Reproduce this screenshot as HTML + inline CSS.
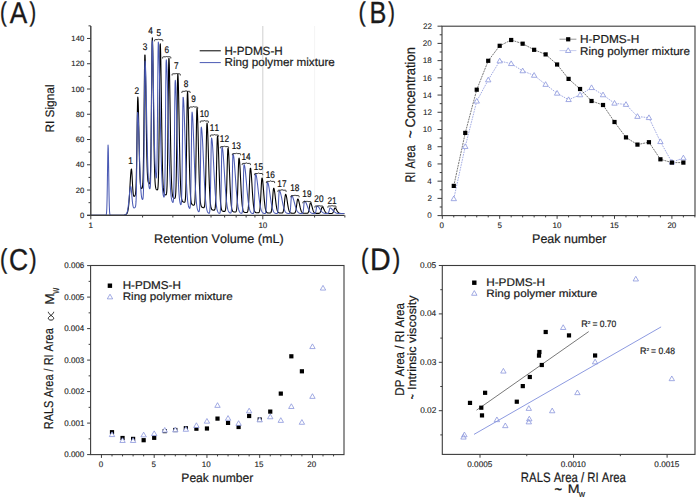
<!DOCTYPE html>
<html><head><meta charset="utf-8"><style>
html,body{margin:0;padding:0;background:#fff;}
svg{display:block;}
text{font-family:"Liberation Sans", sans-serif;font-kerning:none;font-variant-ligatures:none;text-rendering:geometricPrecision;}
</style></head><body>
<svg width="697" height="499" viewBox="0 0 697 499">
<rect width="697" height="499" fill="#fff"/>
<line x1="262.8" y1="26" x2="262.8" y2="215.3" stroke="#c4c4c4" stroke-width="0.8" />
<line x1="314.58" y1="26" x2="314.58" y2="215.3" stroke="#f3f3f3" stroke-width="0.8" />
<path d="M90.8 215.3 L91.05 215.3 L91.3 215.3 L91.55 215.3 L91.8 215.3 L92.05 215.3 L92.3 215.3 L92.55 215.3 L92.8 215.3 L93.05 215.3 L93.3 215.3 L93.55 215.3 L93.8 215.3 L94.05 215.3 L94.3 215.3 L94.55 215.3 L94.8 215.3 L95.05 215.3 L95.3 215.3 L95.55 215.3 L95.8 215.3 L96.05 215.3 L96.3 215.3 L96.55 215.3 L96.8 215.3 L97.05 215.3 L97.3 215.3 L97.55 215.3 L97.8 215.3 L98.05 215.3 L98.3 215.3 L98.55 215.3 L98.8 215.3 L99.05 215.3 L99.3 215.3 L99.55 215.3 L99.8 215.3 L100.05 215.3 L100.3 215.3 L100.55 215.3 L100.8 215.3 L101.05 215.3 L101.3 215.3 L101.55 215.3 L101.8 215.3 L102.05 215.3 L102.3 215.3 L102.55 215.3 L102.8 215.3 L103.05 215.3 L103.3 215.3 L103.55 215.3 L103.8 215.3 L104.05 215.3 L104.3 215.3 L104.55 215.3 L104.8 215.3 L105.05 215.3 L105.3 215.3 L105.55 215.3 L105.8 215.3 L106.05 215.3 L106.3 215.3 L106.55 215.3 L106.8 215.3 L107.05 215.3 L107.3 215.3 L107.55 215.3 L107.8 215.3 L108.05 215.3 L108.3 215.3 L108.55 215.3 L108.8 215.3 L109.05 215.3 L109.3 215.3 L109.55 215.3 L109.8 215.3 L110.05 215.3 L110.3 215.3 L110.55 215.3 L110.8 215.3 L111.05 215.3 L111.3 215.3 L111.55 215.3 L111.8 215.3 L112.05 215.3 L112.3 215.3 L112.55 215.3 L112.8 215.3 L113.05 215.3 L113.3 215.3 L113.55 215.3 L113.8 215.3 L114.05 215.3 L114.3 215.3 L114.55 215.3 L114.8 215.3 L115.05 215.3 L115.3 215.3 L115.55 215.3 L115.8 215.3 L116.05 215.3 L116.3 215.3 L116.55 215.3 L116.8 215.3 L117.05 215.3 L117.3 215.3 L117.55 215.3 L117.8 215.3 L118.05 215.3 L118.3 215.3 L118.55 215.3 L118.8 215.3 L119.05 215.3 L119.3 215.3 L119.55 215.3 L119.8 215.3 L120.05 215.3 L120.3 215.3 L120.55 215.3 L120.8 215.3 L121.05 215.3 L121.3 215.3 L121.55 215.3 L121.8 215.3 L122.05 215.3 L122.3 215.3 L122.55 215.3 L122.8 215.3 L123.05 215.3 L123.3 215.3 L123.55 215.3 L123.8 215.3 L124.05 215.28 L124.3 215.17 L124.55 215.06 L124.8 214.96 L125.05 214.85 L125.3 214.73 L125.55 214.62 L125.8 214.49 L126.05 214.35 L126.3 214.18 L126.55 213.96 L126.8 213.69 L127.05 213.32 L127.3 212.81 L127.55 212.12 L127.8 211.19 L128.05 209.97 L128.3 208.46 L128.55 206.53 L128.8 204.13 L129.05 201.27 L129.3 197.99 L129.55 194.18 L129.8 189.46 L130.05 184.74 L130.3 180.25 L130.55 176.22 L130.8 172.89 L131.05 170.44 L131.3 169 L131.55 169.25 L131.8 171.62 L132.05 175.55 L132.3 180.27 L132.55 185 L132.8 189.14 L133.05 192.33 L133.3 194.49 L133.55 195.69 L133.8 196.12 L134.05 196.13 L134.3 196.3 L134.55 196.24 L134.8 196.02 L135.05 195.62 L135.3 194.9 L135.55 193.53 L135.8 190.88 L136.05 186.06 L136.3 178.01 L136.55 165.98 L136.8 150.09 L137.05 131.93 L137.3 114.56 L137.55 101.84 L137.8 97 L138.05 99.17 L138.3 105.87 L138.55 116.08 L138.8 128.38 L139.05 141.27 L139.3 153.43 L139.55 163.96 L139.8 172.38 L140.05 178.63 L140.3 182.95 L140.55 185.72 L140.8 187.33 L141.05 188.17 L141.3 188.5 L141.55 188.6 L141.8 188.5 L142.05 188.21 L142.3 187.6 L142.55 186.31 L142.8 183.66 L143.05 178.56 L143.3 169.59 L143.55 155.44 L143.8 135.71 L144.05 111.7 L144.3 86.89 L144.55 66.35 L144.8 55.11 L145.05 55.1 L145.3 62.13 L145.55 74.64 L145.8 90.85 L146.05 108.7 L146.3 126.21 L146.55 141.9 L146.8 154.86 L147.05 164.83 L147.3 171.96 L147.55 176.72 L147.8 179.69 L148.05 181.38 L148.3 182.25 L148.55 182.7 L148.8 183.19 L149.05 183.51 L149.3 183.68 L149.55 183.64 L149.8 183.13 L150.05 181.62 L150.3 178.15 L150.55 171.3 L150.8 159.46 L151.05 141.45 L151.3 117.45 L151.55 89.93 L151.8 63.66 L152.05 44.58 L152.3 37.7 L152.55 41.65 L152.8 52.55 L153.05 68.84 L153.3 88.38 L153.55 108.87 L153.8 128.3 L154.05 145.24 L154.3 158.98 L154.55 169.39 L154.8 176.81 L155.05 181.81 L155.3 185.02 L155.55 186.99 L155.8 188.18 L156.05 188.91 L156.3 189.37 L156.55 189.66 L156.8 189.85 L157.05 189.97 L157.3 189.98 L157.55 189.73 L157.8 188.84 L158.05 186.62 L158.3 181.93 L158.55 173.22 L158.8 158.94 L159.05 138.34 L159.3 112.45 L159.55 84.69 L159.8 60.53 L160.05 45.8 L160.3 43.86 L160.55 49.52 L160.8 60.63 L161.05 75.92 L161.3 93.71 L161.55 112.29 L161.8 130.13 L162.05 146.1 L162.3 159.52 L162.55 170.18 L162.8 178.2 L163.05 183.95 L163.3 187.89 L163.55 190.48 L163.8 192.13 L164.05 193.15 L164.3 193.79 L164.55 194.2 L164.8 194.48 L165.05 194.64 L165.3 194.76 L165.55 194.85 L165.8 194.9 L166.05 194.83 L166.3 194.46 L166.55 193.41 L166.8 190.94 L167.05 185.89 L167.3 176.79 L167.55 162.26 L167.8 141.86 L168.05 116.98 L168.3 91.27 L168.55 70.02 L168.8 58.54 L169.05 58.56 L169.3 64.62 L169.55 75.39 L169.8 89.68 L170.05 106.03 L170.3 122.94 L170.55 139.09 L170.8 153.53 L171.05 165.69 L171.3 175.38 L171.55 182.73 L171.8 188.03 L172.05 191.69 L172.3 194.11 L172.55 195.65 L172.8 196.61 L173.05 197.2 L173.3 197.57 L173.55 197.8 L173.8 197.97 L174.05 198.1 L174.3 198.21 L174.55 198.29 L174.8 198.28 L175.05 198.07 L175.3 197.4 L175.55 195.73 L175.8 192.24 L176.05 185.76 L176.3 175.06 L176.55 159.35 L176.8 139.04 L177.05 116.28 L177.3 94.9 L177.55 79.54 L177.8 74 L178.05 76.22 L178.3 82.45 L178.55 92.1 L178.8 104.28 L179.05 117.94 L179.3 132.05 L179.55 145.66 L179.8 158.06 L180.05 168.81 L180.3 177.68 L180.55 184.7 L180.8 190.03 L181.05 193.92 L181.3 196.66 L181.55 198.53 L181.8 199.77 L182.05 200.58 L182.3 201.1 L182.55 201.45 L182.8 201.69 L183.05 201.87 L183.3 201.99 L183.55 202.08 L183.8 202.17 L184.05 202.24 L184.3 202.29 L184.55 202.28 L184.8 202.08 L185.05 201.46 L185.3 199.92 L185.55 196.68 L185.8 190.62 L186.05 180.59 L186.3 165.9 L186.55 147.06 L186.8 126.31 L187.05 107.44 L187.3 94.82 L187.55 91.59 L187.8 94.41 L188.05 100.84 L188.3 110.26 L188.55 121.78 L188.8 134.4 L189.05 147.13 L189.3 159.16 L189.55 169.91 L189.8 179.01 L190.05 186.37 L190.3 192.05 L190.55 196.26 L190.8 199.25 L191.05 201.31 L191.3 202.68 L191.55 203.56 L191.8 204.12 L192.05 204.48 L192.3 204.72 L192.55 204.88 L192.8 204.99 L193.05 205.07 L193.3 205.14 L193.55 205.19 L193.8 205.2 L194.05 205.1 L194.3 204.77 L194.55 203.93 L194.8 202.09 L195.05 198.54 L195.3 192.38 L195.55 182.83 L195.8 169.58 L196.05 153.32 L196.3 136.03 L196.55 120.71 L196.8 110.63 L197.05 108.08 L197.3 110.3 L197.55 115.42 L197.8 122.98 L198.05 132.31 L198.3 142.68 L198.55 153.34 L198.8 163.62 L199.05 173.03 L199.3 181.23 L199.55 188.06 L199.8 193.52 L200.05 197.72 L200.3 200.82 L200.55 203.04 L200.8 204.58 L201.05 205.62 L201.3 206.3 L201.55 206.74 L201.8 207.02 L202.05 207.22 L202.3 207.35 L202.55 207.45 L202.8 207.53 L203.05 207.6 L203.3 207.66 L203.55 207.7 L203.8 207.67 L204.05 207.52 L204.3 207.06 L204.55 206.03 L204.8 203.97 L205.05 200.27 L205.3 194.25 L205.55 185.39 L205.8 173.65 L206.05 159.79 L206.3 145.49 L206.55 133.11 L206.8 125.07 L207.05 123.06 L207.3 124.84 L207.55 128.93 L207.8 135 L208.05 142.56 L208.3 151.06 L208.55 159.93 L208.8 168.65 L209.05 176.79 L209.3 184.07 L209.55 190.29 L209.8 195.42 L210.05 199.49 L210.3 202.62 L210.55 204.94 L210.8 206.61 L211.05 207.78 L211.3 208.58 L211.55 209.13 L211.8 209.49 L212.05 209.73 L212.3 209.89 L212.55 209.98 L212.8 210.05 L213.05 210.1 L213.3 210.14 L213.55 210.17 L213.8 210.19 L214.05 210.2 L214.3 210.15 L214.55 209.99 L214.8 209.57 L215.05 208.64 L215.3 206.82 L215.55 203.57 L215.8 198.29 L216.05 190.54 L216.3 180.28 L216.55 168.18 L216.8 155.68 L217.05 144.86 L217.3 137.83 L217.55 136.05 L217.8 137.58 L218.05 141.12 L218.3 146.38 L218.55 152.95 L218.8 160.33 L219.05 168.04 L219.3 175.62 L219.55 182.7 L219.8 189.01 L220.05 194.41 L220.3 198.86 L220.55 202.39 L220.8 205.09 L221.05 207.08 L221.3 208.52 L221.55 209.51 L221.8 210.19 L222.05 210.63 L222.3 210.92 L222.55 211.11 L222.8 211.23 L223.05 211.29 L223.3 211.34 L223.55 211.37 L223.8 211.39 L224.05 211.4 L224.3 211.4 L224.55 211.37 L224.8 211.27 L225.05 211.03 L225.3 210.5 L225.55 209.44 L225.8 207.51 L226.05 204.29 L226.3 199.35 L226.55 192.43 L226.8 183.64 L227.05 173.6 L227.3 163.51 L227.55 154.93 L227.8 149.43 L228.05 148.04 L228.3 149.21 L228.55 151.96 L228.8 156.08 L229.05 161.26 L229.3 167.14 L229.55 173.37 L229.8 179.59 L230.05 185.51 L230.3 190.9 L230.55 195.62 L230.8 199.6 L231.05 202.85 L231.3 205.41 L231.55 207.36 L231.8 208.81 L232.05 209.85 L232.3 210.58 L232.55 211.07 L232.8 211.4 L233.05 211.62 L233.3 211.75 L233.55 211.84 L233.8 211.9 L234.05 211.94 L234.3 211.97 L234.55 211.98 L234.8 212 L235.05 212 L235.3 211.99 L235.55 211.94 L235.8 211.82 L236.05 211.53 L236.3 210.96 L236.55 209.87 L236.8 207.98 L237.05 204.95 L237.3 200.49 L237.55 194.44 L237.8 186.97 L238.05 178.64 L238.3 170.41 L238.55 163.52 L238.8 159.13 L239.05 158.03 L239.3 158.96 L239.55 161.15 L239.8 164.44 L240.05 168.6 L240.3 173.36 L240.55 178.45 L240.8 183.59 L241.05 188.54 L241.3 193.12 L241.55 197.19 L241.8 200.7 L242.05 203.61 L242.3 205.96 L242.55 207.79 L242.8 209.19 L243.05 210.22 L243.3 210.96 L243.55 211.48 L243.8 211.83 L244.05 212.07 L244.3 212.22 L244.55 212.33 L244.8 212.39 L245.05 212.43 L245.3 212.46 L245.55 212.48 L245.8 212.49 L246.05 212.5 L246.3 212.5 L246.55 212.49 L246.8 212.47 L247.05 212.39 L247.3 212.22 L247.55 211.86 L247.8 211.17 L248.05 209.95 L248.3 207.94 L248.55 204.89 L248.8 200.62 L249.05 195.11 L249.3 188.64 L249.55 181.83 L249.8 175.53 L250.05 170.71 L250.3 168.23 L250.55 168.19 L250.8 169.34 L251.05 171.45 L251.3 174.38 L251.55 177.93 L251.8 181.89 L252.05 186.03 L252.3 190.16 L252.55 194.1 L252.8 197.71 L253.05 200.91 L253.3 203.64 L253.55 205.9 L253.8 207.73 L254.05 209.15 L254.3 210.23 L254.55 211.03 L254.8 211.6 L255.05 212.01 L255.3 212.28 L255.55 212.47 L255.8 212.59 L256.05 212.67 L256.3 212.72 L256.55 212.75 L256.8 212.77 L257.05 212.78 L257.3 212.79 L257.55 212.8 L257.8 212.8 L258.05 212.8 L258.3 212.78 L258.55 212.74 L258.8 212.63 L259.05 212.4 L259.3 211.96 L259.55 211.16 L259.8 209.83 L260.05 207.75 L260.3 204.76 L260.55 200.81 L260.8 196.02 L261.05 190.76 L261.3 185.64 L261.55 181.39 L261.8 178.69 L262.05 178.02 L262.3 178.59 L262.55 179.92 L262.8 181.94 L263.05 184.5 L263.3 187.45 L263.55 190.62 L263.8 193.85 L264.05 196.99 L264.3 199.92 L264.55 202.55 L264.8 204.85 L265.05 206.79 L265.3 208.37 L265.55 209.63 L265.8 210.6 L266.05 211.33 L266.3 211.86 L266.55 212.24 L266.8 212.51 L267.05 212.69 L267.3 212.81 L267.55 212.89 L267.8 212.94 L268.05 212.97 L268.3 212.98 L268.55 212.99 L268.8 213 L269.05 213 L269.3 213 L269.55 213 L269.8 212.99 L270.05 212.96 L270.3 212.91 L270.55 212.81 L270.8 212.59 L271.05 212.2 L271.3 211.51 L271.55 210.41 L271.8 208.75 L272.05 206.44 L272.3 203.48 L272.55 200 L272.8 196.31 L273.05 192.83 L273.3 190.07 L273.55 188.47 L273.8 188.24 L274.05 188.74 L274.3 189.76 L274.55 191.22 L274.8 193.05 L275.05 195.14 L275.3 197.36 L275.55 199.61 L275.8 201.79 L276.05 203.82 L276.3 205.65 L276.55 207.25 L276.8 208.6 L277.05 209.7 L277.3 210.59 L277.55 211.27 L277.8 211.79 L278.05 212.16 L278.3 212.44 L278.55 212.63 L278.8 212.75 L279.05 212.84 L279.3 212.9 L279.55 212.93 L279.8 212.95 L280.05 212.96 L280.3 212.98 L280.55 212.99 L280.8 212.99 L281.05 213 L281.3 213 L281.55 213 L281.8 212.99 L282.05 212.96 L282.3 212.9 L282.55 212.78 L282.8 212.54 L283.05 212.12 L283.3 211.43 L283.55 210.38 L283.8 208.88 L284.05 206.91 L284.3 204.5 L284.55 201.81 L284.8 199.12 L285.05 196.75 L285.3 195.06 L285.55 194.32 L285.8 194.43 L286.05 194.95 L286.3 195.83 L286.55 197.01 L286.8 198.43 L287.05 200.01 L287.3 201.67 L287.55 203.33 L287.8 204.93 L288.05 206.41 L288.3 207.74 L288.55 208.91 L288.8 209.89 L289.05 210.7 L289.3 211.35 L289.55 211.85 L289.8 212.24 L290.05 212.53 L290.3 212.74 L290.55 212.89 L290.8 212.99 L291.05 213.06 L291.3 213.11 L291.55 213.14 L291.8 213.16 L292.05 213.18 L292.3 213.19 L292.55 213.19 L292.8 213.2 L293.05 213.2 L293.3 213.2 L293.55 213.2 L293.8 213.19 L294.05 213.17 L294.3 213.14 L294.55 213.06 L294.8 212.91 L295.05 212.66 L295.3 212.24 L295.55 211.6 L295.8 210.66 L296.05 209.4 L296.3 207.8 L296.55 205.95 L296.8 203.96 L297.05 202.05 L297.3 200.44 L297.55 199.37 L297.8 199 L298.05 199.14 L298.3 199.56 L298.55 200.22 L298.8 201.09 L299.05 202.13 L299.3 203.27 L299.55 204.48 L299.8 205.69 L300.05 206.86 L300.3 207.96 L300.55 208.95 L300.8 209.83 L301.05 210.58 L301.3 211.21 L301.55 211.72 L301.8 212.13 L302.05 212.45 L302.3 212.69 L302.55 212.87 L302.8 213 L303.05 213.09 L303.3 213.16 L303.55 213.2 L303.8 213.23 L304.05 213.25 L304.3 213.27 L304.55 213.28 L304.8 213.28 L305.05 213.29 L305.3 213.29 L305.55 213.29 L305.8 213.3 L306.05 213.3 L306.3 213.3 L306.55 213.3 L306.8 213.29 L307.05 213.28 L307.3 213.25 L307.55 213.18 L307.8 213.04 L308.05 212.79 L308.3 212.39 L308.55 211.76 L308.8 210.86 L309.05 209.69 L309.3 208.27 L309.55 206.73 L309.8 205.23 L310.05 203.99 L310.3 203.2 L310.55 203.01 L310.8 203.17 L311.05 203.56 L311.3 204.15 L311.55 204.9 L311.8 205.76 L312.05 206.69 L312.3 207.64 L312.55 208.57 L312.8 209.44 L313.05 210.22 L313.3 210.9 L313.55 211.48 L313.8 211.96 L314.05 212.34 L314.3 212.64 L314.55 212.86 L314.8 213.03 L315.05 213.14 L315.3 213.23 L315.55 213.28 L315.8 213.32 L316.05 213.35 L316.3 213.37 L316.55 213.38 L316.8 213.38 L317.05 213.39 L317.3 213.39 L317.55 213.4 L317.8 213.4 L318.05 213.4 L318.3 213.4 L318.55 213.39 L318.8 213.38 L319.05 213.34 L319.3 213.28 L319.55 213.17 L319.8 212.98 L320.05 212.69 L320.3 212.27 L320.55 211.69 L320.8 210.97 L321.05 210.14 L321.3 209.24 L321.55 208.37 L321.8 207.65 L322.05 207.17 L322.3 207 L322.55 207.07 L322.8 207.25 L323.05 207.55 L323.3 207.95 L323.55 208.42 L323.8 208.94 L324.05 209.49 L324.3 210.04 L324.55 210.57 L324.8 211.07 L325.05 211.52 L325.3 211.92 L325.55 212.26 L325.8 212.54 L326.05 212.78 L326.3 212.96 L326.55 213.11 L326.8 213.22 L327.05 213.3 L327.3 213.36 L327.55 213.41 L327.8 213.44 L328.05 213.46 L328.3 213.47 L328.55 213.48 L328.8 213.49 L329.05 213.5 L329.3 213.5 L329.55 213.5 L329.8 213.5 L330.05 213.5 L330.3 213.5 L330.55 213.5 L330.8 213.5 L331.05 213.49 L331.3 213.49 L331.55 213.47 L331.8 213.43 L332.05 213.37 L332.3 213.26 L332.55 213.08 L332.8 212.81 L333.05 212.42 L333.3 211.91 L333.55 211.27 L333.8 210.54 L334.05 209.77 L334.3 209.04 L334.55 208.46 L334.8 208.09 L335.05 208 L335.3 208.08 L335.55 208.26 L335.8 208.53 L336.05 208.88 L336.3 209.29 L336.55 209.74 L336.8 210.21 L337.05 210.67 L337.3 211.12 L337.55 211.53 L337.8 211.91 L338.05 212.24 L338.3 212.52 L338.55 212.75 L338.8 212.94 L339.05 213.09 L339.3 213.21 L339.55 213.29 L339.8 213.36 L340.05 213.4 L340.3 213.44 L340.55 213.46 L340.8 213.47 L341.05 213.48 L341.3 213.49 L341.55 213.49 L341.8 213.5 L342.05 213.5 L342.3 213.5 L342.55 213.5 L342.8 213.5 L343.05 213.5 L343.3 213.5 L343.55 213.5 L343.8 213.5 L344.05 213.5 L344.3 213.5" fill="none" stroke="#000" stroke-width="1.1" stroke-linejoin="round"/>
<path d="M90.8 215.3 L91.05 215.3 L91.3 215.3 L91.55 215.3 L91.8 215.3 L92.05 215.3 L92.3 215.3 L92.55 215.3 L92.8 215.3 L93.05 215.3 L93.3 215.3 L93.55 215.3 L93.8 215.3 L94.05 215.3 L94.3 215.3 L94.55 215.3 L94.8 215.3 L95.05 215.3 L95.3 215.3 L95.55 215.3 L95.8 215.3 L96.05 215.3 L96.3 215.3 L96.55 215.3 L96.8 215.3 L97.05 215.3 L97.3 215.3 L97.55 215.3 L97.8 215.3 L98.05 215.3 L98.3 215.3 L98.55 215.3 L98.8 215.3 L99.05 215.3 L99.3 215.3 L99.55 215.3 L99.8 215.3 L100.05 215.3 L100.3 215.3 L100.55 215.3 L100.8 215.3 L101.05 215.3 L101.3 215.3 L101.55 215.3 L101.8 215.3 L102.05 215.3 L102.3 215.3 L102.55 215.3 L102.8 215.3 L103.05 215.3 L103.3 215.3 L103.55 215.3 L103.8 215.3 L104.05 215.3 L104.3 215.3 L104.55 215.3 L104.8 215.3 L105.05 215.3 L105.3 215.3 L105.55 215.29 L105.8 215.25 L106.05 215.09 L106.3 214.52 L106.55 212.79 L106.8 208.56 L107.05 200.05 L107.3 186.32 L107.55 168.98 L107.8 153.08 L108.05 145.04 L108.3 148.61 L108.55 162.08 L108.8 179.6 L109.05 195.17 L109.3 205.76 L109.55 211.5 L109.8 214.03 L110.05 214.94 L110.3 215.22 L110.55 215.28 L110.8 215.3 L111.05 215.3 L111.3 215.3 L111.55 215.3 L111.8 215.3 L112.05 215.3 L112.3 215.3 L112.55 215.3 L112.8 215.3 L113.05 215.3 L113.3 215.3 L113.55 215.3 L113.8 215.3 L114.05 215.3 L114.3 215.3 L114.55 215.3 L114.8 215.3 L115.05 215.3 L115.3 215.3 L115.55 215.3 L115.8 215.3 L116.05 215.3 L116.3 215.3 L116.55 215.3 L116.8 215.3 L117.05 215.3 L117.3 215.3 L117.55 215.3 L117.8 215.3 L118.05 215.3 L118.3 215.3 L118.55 215.3 L118.8 215.3 L119.05 215.3 L119.3 215.3 L119.55 215.3 L119.8 215.3 L120.05 215.3 L120.3 215.3 L120.55 215.3 L120.8 215.3 L121.05 215.3 L121.3 215.3 L121.55 215.3 L121.8 215.3 L122.05 215.3 L122.3 215.3 L122.55 215.3 L122.8 215.3 L123.05 215.3 L123.3 215.3 L123.55 215.3 L123.8 215.3 L124.05 215.28 L124.3 215.17 L124.55 215.06 L124.8 214.95 L125.05 214.83 L125.3 214.7 L125.55 214.55 L125.8 214.38 L126.05 214.17 L126.3 213.91 L126.55 213.55 L126.8 213.09 L127.05 212.46 L127.3 211.64 L127.55 210.58 L127.8 209.25 L128.05 207.63 L128.3 205.78 L128.55 203.64 L128.8 201.27 L129.05 198.48 L129.3 195.68 L129.55 192.99 L129.8 190.59 L130.05 188.62 L130.3 187.21 L130.55 186.47 L130.8 186.54 L131.05 187.66 L131.3 189.64 L131.55 192.24 L131.8 195.13 L132.05 198.03 L132.3 200.7 L132.55 202.96 L132.8 204.75 L133.05 206.06 L133.3 206.94 L133.55 207.5 L133.8 207.8 L134.05 207.9 L134.3 207.87 L134.55 207.76 L134.8 207.59 L135.05 207.37 L135.3 207.03 L135.55 206.35 L135.8 204.77 L136.05 201.15 L136.3 193.76 L136.55 180.9 L136.8 162.3 L137.05 140.67 L137.3 121.86 L137.55 112.52 L137.8 112.73 L138.05 115.3 L138.3 119.81 L138.55 125.94 L138.8 133.29 L139.05 141.4 L139.3 149.82 L139.55 158.13 L139.8 165.99 L140.05 173.12 L140.3 179.37 L140.55 184.65 L140.8 188.97 L141.05 192.38 L141.3 194.99 L141.55 196.82 L141.8 198.08 L142.05 198.9 L142.3 199.36 L142.55 199.5 L142.8 199.22 L143.05 198.07 L143.3 194.96 L143.55 187.87 L143.8 174.12 L144.05 151.76 L144.3 121.93 L144.55 90.64 L144.8 67.55 L145.05 61.01 L145.3 63.07 L145.55 68.34 L145.8 76.41 L146.05 86.7 L146.3 98.52 L146.55 111.13 L146.8 123.84 L147.05 136.04 L147.3 147.27 L147.55 157.19 L147.8 165.64 L148.05 172.58 L148.3 178.08 L148.55 182.04 L148.8 184.88 L149.05 186.81 L149.3 188.02 L149.55 188.65 L149.8 188.8 L150.05 188.33 L150.3 186.7 L150.55 182.61 L150.8 173.74 L151.05 157.25 L151.3 131.55 L151.55 98.78 L151.8 66.31 L152.05 44.63 L152.3 40.68 L152.55 44.55 L152.8 52.91 L153.05 64.87 L153.3 79.28 L153.55 94.87 L153.8 110.44 L154.05 125 L154.3 137.84 L154.55 148.57 L154.8 157.08 L155.05 163.49 L155.3 168.06 L155.55 172.3 L155.8 175.31 L156.05 177.27 L156.3 178 L156.55 176.67 L156.8 171.46 L157.05 159.7 L157.3 139.05 L157.55 109.89 L157.8 77.51 L158.05 51.6 L158.3 42 L158.55 44.11 L158.8 49.09 L159.05 56.68 L159.3 66.46 L159.55 77.91 L159.8 90.48 L160.05 103.57 L160.3 116.64 L160.55 129.23 L160.8 140.95 L161.05 151.56 L161.3 160.89 L161.55 168.91 L161.8 175.63 L162.05 181.17 L162.3 185.65 L162.55 189.22 L162.8 192.05 L163.05 194.19 L163.3 195.48 L163.55 196.4 L163.8 196.98 L164.05 197.06 L164.3 196.08 L164.55 192.76 L164.8 184.83 L165.05 169.54 L165.3 145.31 L165.55 114.26 L165.8 83.49 L166.05 63.18 L166.3 59.84 L166.55 61.99 L166.8 66.27 L167.05 72.47 L167.3 80.32 L167.55 89.49 L167.8 99.61 L168.05 110.29 L168.3 121.16 L168.55 131.87 L168.8 142.14 L169.05 151.72 L169.3 160.47 L169.55 168.27 L169.8 175.07 L170.05 180.9 L170.3 185.79 L170.55 189.83 L170.8 193.09 L171.05 195.69 L171.3 197.65 L171.55 199.16 L171.8 200.31 L172.05 201.17 L172.3 201.8 L172.55 202.24 L172.8 202.49 L173.05 202.36 L173.3 201.36 L173.55 198.3 L173.8 191.19 L174.05 177.58 L174.3 156.08 L174.55 128.53 L174.8 101.24 L175.05 83.21 L175.3 80.23 L175.55 82.59 L175.8 87.34 L176.05 94.21 L176.3 102.8 L176.55 112.65 L176.8 123.25 L177.05 134.11 L177.3 144.78 L177.55 154.89 L177.8 164.16 L178.05 172.4 L178.3 179.52 L178.55 185.5 L178.8 190.41 L179.05 194.33 L179.3 197.38 L179.55 199.72 L179.8 201.48 L180.05 202.78 L180.3 203.72 L180.55 204.36 L180.8 204.69 L181.05 204.5 L181.3 203.15 L181.55 199.34 L181.8 191.06 L182.05 176.32 L182.3 154.81 L182.55 129.72 L182.8 107.94 L183.05 97.3 L183.3 97.65 L183.55 100.03 L183.8 104.04 L184.05 109.52 L184.3 116.2 L184.55 123.8 L184.8 132.02 L185.05 140.54 L185.3 149.07 L185.55 157.36 L185.8 165.18 L186.05 172.4 L186.3 178.88 L186.55 184.59 L186.8 189.5 L187.05 193.65 L187.3 197.08 L187.55 199.87 L187.8 202.1 L188.05 203.86 L188.3 205.21 L188.55 206.25 L188.8 207.04 L189.05 207.63 L189.3 208.06 L189.55 208.34 L189.8 208.37 L190.05 207.8 L190.3 205.86 L190.55 201.08 L190.8 191.53 L191.05 175.82 L191.3 154.77 L191.55 132.67 L191.8 116.45 L192.05 112.05 L192.3 113.18 L192.55 115.76 L192.8 119.66 L193.05 124.72 L193.3 130.73 L193.55 137.45 L193.8 144.64 L194.05 152.03 L194.3 159.41 L194.55 166.56 L194.8 173.31 L195.05 179.55 L195.3 185.18 L195.55 190.16 L195.8 194.47 L196.05 198.14 L196.3 201.21 L196.55 203.73 L196.8 205.76 L197.05 207.38 L197.3 208.66 L197.55 209.65 L197.8 210.36 L198.05 210.89 L198.3 211.28 L198.55 211.56 L198.8 211.7 L199.05 211.59 L199.3 210.88 L199.55 208.76 L199.8 203.84 L200.05 194.43 L200.3 179.57 L200.55 160.54 L200.8 141.68 L201.05 129.22 L201.3 127.1 L201.55 128.07 L201.8 130.05 L202.05 132.95 L202.3 136.69 L202.55 141.13 L202.8 146.14 L203.05 151.55 L203.3 157.21 L203.55 162.96 L203.8 168.68 L204.05 174.22 L204.3 179.49 L204.55 184.41 L204.8 188.91 L205.05 192.97 L205.3 196.56 L205.55 199.7 L205.8 202.39 L206.05 204.67 L206.3 206.58 L206.55 208.14 L206.8 209.42 L207.05 210.44 L207.3 211.25 L207.55 211.89 L207.8 212.37 L208.05 212.71 L208.3 212.97 L208.55 213.15 L208.8 213.28 L209.05 213.33 L209.3 213.21 L209.55 212.66 L209.8 211.06 L210.05 207.28 L210.3 199.82 L210.55 187.6 L210.8 171.26 L211.05 154.11 L211.3 141.49 L211.55 138.02 L211.8 138.64 L212.05 140.11 L212.3 142.4 L212.55 145.42 L212.8 149.07 L213.05 153.24 L213.3 157.8 L213.55 162.61 L213.8 167.55 L214.05 172.5 L214.3 177.34 L214.55 181.98 L214.8 186.35 L215.05 190.39 L215.3 194.06 L215.55 197.34 L215.8 200.23 L216.05 202.73 L216.3 204.87 L216.55 206.67 L216.8 208.16 L217.05 209.38 L217.3 210.37 L217.55 211.15 L217.8 211.77 L218.05 212.24 L218.3 212.6 L218.55 212.87 L218.8 213.06 L219.05 213.19 L219.3 213.28 L219.55 213.31 L219.8 213.19 L220.05 212.69 L220.3 211.27 L220.55 207.93 L220.8 201.37 L221.05 190.62 L221.3 176.25 L221.55 161.17 L221.8 150.08 L222.05 147.01 L222.3 147.49 L222.55 148.67 L222.8 150.49 L223.05 152.92 L223.3 155.86 L223.55 159.24 L223.8 162.96 L224.05 166.93 L224.3 171.03 L224.55 175.17 L224.8 179.27 L225.05 183.25 L225.3 187.05 L225.55 190.6 L225.8 193.87 L226.05 196.85 L226.3 199.51 L226.55 201.85 L226.8 203.89 L227.05 205.64 L227.3 207.12 L227.55 208.36 L227.8 209.38 L228.05 210.22 L228.3 210.9 L228.55 211.45 L228.8 211.88 L229.05 212.21 L229.3 212.47 L229.55 212.67 L229.8 212.81 L230.05 212.93 L230.3 213 L230.55 213.02 L230.8 212.93 L231.05 212.5 L231.3 211.24 L231.55 208.28 L231.8 202.43 L232.05 192.86 L232.3 180.05 L232.55 166.61 L232.8 156.73 L233.05 154.01 L233.3 154.46 L233.55 155.53 L233.8 157.17 L234.05 159.35 L234.3 162 L234.55 165.03 L234.8 168.37 L235.05 171.92 L235.3 175.6 L235.55 179.31 L235.8 182.99 L236.05 186.56 L236.3 189.96 L236.55 193.14 L236.8 196.08 L237.05 198.76 L237.3 201.15 L237.55 203.26 L237.8 205.09 L238.05 206.67 L238.3 208.01 L238.55 209.13 L238.8 210.05 L239.05 210.81 L239.3 211.42 L239.55 211.9 L239.8 212.28 L240.05 212.58 L240.3 212.81 L240.55 212.98 L240.8 213.11 L241.05 213.21 L241.3 213.28 L241.55 213.3 L241.8 213.22 L242.05 212.86 L242.3 211.83 L242.55 209.38 L242.8 204.55 L243.05 196.63 L243.3 186.04 L243.55 174.93 L243.8 166.76 L244.05 164.51 L244.3 164.85 L244.55 165.65 L244.8 166.9 L245.05 168.56 L245.3 170.58 L245.55 172.91 L245.8 175.49 L246.05 178.25 L246.3 181.13 L246.55 184.06 L246.8 186.99 L247.05 189.86 L247.3 192.63 L247.55 195.25 L247.8 197.7 L248.05 199.96 L248.3 202.01 L248.55 203.85 L248.8 205.48 L249.05 206.9 L249.3 208.13 L249.55 209.17 L249.8 210.06 L250.05 210.79 L250.3 211.39 L250.55 211.88 L250.8 212.28 L251.05 212.59 L251.3 212.84 L251.55 213.03 L251.8 213.18 L252.05 213.29 L252.3 213.37 L252.55 213.44 L252.8 213.48 L253.05 213.48 L253.3 213.4 L253.55 213.09 L253.8 212.21 L254.05 210.17 L254.3 206.19 L254.55 199.75 L254.8 191.19 L255.05 182.25 L255.3 175.71 L255.55 173.91 L255.8 174.16 L256.05 174.77 L256.3 175.71 L256.55 176.97 L256.8 178.51 L257.05 180.28 L257.3 182.26 L257.55 184.38 L257.8 186.61 L258.05 188.9 L258.3 191.19 L258.55 193.46 L258.8 195.66 L259.05 197.77 L259.3 199.76 L259.55 201.6 L259.8 203.3 L260.05 204.83 L260.3 206.21 L260.55 207.42 L260.8 208.49 L261.05 209.4 L261.3 210.19 L261.55 210.85 L261.8 211.41 L262.05 211.86 L262.3 212.24 L262.55 212.54 L262.8 212.79 L263.05 212.98 L263.3 213.13 L263.55 213.25 L263.8 213.34 L264.05 213.41 L264.3 213.46 L264.55 213.49 L264.8 213.51 L265.05 213.5 L265.3 213.38 L265.55 212.99 L265.8 212 L266.05 209.84 L266.3 205.94 L266.55 200.08 L266.8 192.97 L267.05 186.38 L267.3 182.56 L267.55 182.25 L267.8 182.56 L268.05 183.15 L268.3 184 L268.55 185.09 L268.8 186.38 L269.05 187.86 L269.3 189.47 L269.55 191.19 L269.8 192.97 L270.05 194.78 L270.3 196.6 L270.55 198.37 L270.8 200.08 L271.05 201.71 L271.3 203.24 L271.55 204.66 L271.8 205.95 L272.05 207.11 L272.3 208.14 L272.55 209.06 L272.8 209.85 L273.05 210.53 L273.3 211.11 L273.55 211.6 L273.8 212.01 L274.05 212.34 L274.3 212.62 L274.55 212.84 L274.8 213.01 L275.05 213.15 L275.3 213.26 L275.55 213.34 L275.8 213.41 L276.05 213.45 L276.3 213.49 L276.55 213.51 L276.8 213.51 L277.05 213.46 L277.3 213.27 L277.55 212.77 L277.8 211.62 L278.05 209.44 L278.3 205.94 L278.55 201.26 L278.8 196.24 L279.05 192.3 L279.3 190.8 L279.55 190.9 L279.8 191.19 L280.05 191.66 L280.3 192.3 L280.55 193.1 L280.8 194.04 L281.05 195.1 L281.3 196.24 L281.55 197.46 L281.8 198.71 L282.05 199.99 L282.3 201.26 L282.55 202.5 L282.8 203.71 L283.05 204.86 L283.3 205.94 L283.55 206.94 L283.8 207.86 L284.05 208.7 L284.3 209.45 L284.55 210.11 L284.8 210.69 L285.05 211.19 L285.3 211.63 L285.55 211.99 L285.8 212.3 L286.05 212.56 L286.3 212.77 L286.55 212.95 L286.8 213.09 L287.05 213.2 L287.3 213.29 L287.55 213.36 L287.8 213.42 L288.05 213.46 L288.3 213.49 L288.55 213.51 L288.8 213.53 L289.05 213.52 L289.3 213.46 L289.55 213.29 L289.8 212.86 L290.05 211.94 L290.3 210.26 L290.55 207.63 L290.8 204.16 L291.05 200.41 L291.3 197.32 L291.55 195.84 L291.8 195.84 L292.05 196.02 L292.3 196.33 L292.55 196.77 L292.8 197.32 L293.05 197.98 L293.3 198.73 L293.55 199.54 L293.8 200.42 L294.05 201.34 L294.3 202.28 L294.55 203.23 L294.8 204.17 L295.05 205.1 L295.3 205.99 L295.55 206.84 L295.8 207.65 L296.05 208.39 L296.3 209.08 L296.55 209.71 L296.8 210.28 L297.05 210.78 L297.3 211.23 L297.55 211.62 L297.8 211.96 L298.05 212.26 L298.3 212.5 L298.55 212.71 L298.8 212.89 L299.05 213.03 L299.3 213.15 L299.55 213.25 L299.8 213.32 L300.05 213.38 L300.3 213.43 L300.55 213.47 L300.8 213.5 L301.05 213.52 L301.3 213.54 L301.55 213.55 L301.8 213.56 L302.05 213.55 L302.3 213.5 L302.55 213.36 L302.8 212.99 L303.05 212.22 L303.3 210.84 L303.55 208.74 L303.8 206.09 L304.05 203.43 L304.3 201.52 L304.55 201 L304.8 201.07 L305.05 201.25 L305.3 201.52 L305.55 201.88 L305.8 202.33 L306.05 202.85 L306.3 203.42 L306.55 204.05 L306.8 204.71 L307.05 205.39 L307.3 206.09 L307.55 206.78 L307.8 207.45 L308.05 208.11 L308.3 208.73 L308.55 209.32 L308.8 209.87 L309.05 210.38 L309.3 210.83 L309.55 211.25 L309.8 211.61 L310.05 211.93 L310.3 212.21 L310.55 212.46 L310.8 212.66 L311.05 212.84 L311.3 212.98 L311.55 213.1 L311.8 213.2 L312.05 213.28 L312.3 213.34 L312.55 213.4 L312.8 213.44 L313.05 213.47 L313.3 213.49 L313.55 213.51 L313.8 213.52 L314.05 213.53 L314.3 213.54 L314.55 213.53 L314.8 213.48 L315.05 213.37 L315.3 213.11 L315.55 212.59 L315.8 211.71 L316.05 210.43 L316.3 208.88 L316.55 207.36 L316.8 206.29 L317.05 206 L317.3 206.04 L317.55 206.14 L317.8 206.29 L318.05 206.49 L318.3 206.74 L318.55 207.03 L318.8 207.35 L319.05 207.71 L319.3 208.08 L319.55 208.47 L319.8 208.87 L320.05 209.27 L320.3 209.66 L320.55 210.05 L320.8 210.42 L321.05 210.77 L321.3 211.1 L321.55 211.41 L321.8 211.69 L322.05 211.95 L322.3 212.18 L322.55 212.39 L322.8 212.57 L323.05 212.73 L323.3 212.87 L323.55 212.99 L323.8 213.09 L324.05 213.17 L324.3 213.24 L324.55 213.3 L324.8 213.35 L325.05 213.39 L325.3 213.42 L325.55 213.45 L325.8 213.47 L326.05 213.48 L326.3 213.5 L326.55 213.51 L326.8 213.51 L327.05 213.52 L327.3 213.52 L327.55 213.51 L327.8 213.48 L328.05 213.4 L328.3 213.2 L328.55 212.82 L328.8 212.18 L329.05 211.24 L329.3 210.11 L329.55 208.99 L329.8 208.21 L330.05 208 L330.3 208.03 L330.55 208.1 L330.8 208.21 L331.05 208.36 L331.3 208.54 L331.55 208.76 L331.8 208.99 L332.05 209.25 L332.3 209.53 L332.55 209.82 L332.8 210.11 L333.05 210.4 L333.3 210.69 L333.55 210.97 L333.8 211.24 L334.05 211.5 L334.3 211.75 L334.55 211.97 L334.8 212.18 L335.05 212.37 L335.3 212.54 L335.55 212.69 L335.8 212.83 L336.05 212.94 L336.3 213.05 L336.55 213.13 L336.8 213.21 L337.05 213.27 L337.3 213.32 L337.55 213.36 L337.8 213.4 L338.05 213.43 L338.3 213.45 L338.55 213.47 L338.8 213.49 L339.05 213.5 L339.3 213.51 L339.55 213.51 L339.8 213.52 L340.05 213.52 L340.3 213.53 L340.55 213.53 L340.8 213.53 L341.05 213.53 L341.3 213.53 L341.55 213.53 L341.8 213.53 L342.05 213.53 L342.3 213.53 L342.55 213.53 L342.8 213.53 L343.05 213.53 L343.3 213.53 L343.55 213.53 L343.8 213.53 L344.05 213.53 L344.3 213.53" fill="none" stroke="#4a5ab4" stroke-width="1.05" stroke-linejoin="round"/>
<line x1="90.8" y1="26" x2="90.8" y2="215.9" stroke="#3c3c3c" stroke-width="1.4" />
<line x1="87.2" y1="215.3" x2="344.5" y2="215.3" stroke="#3c3c3c" stroke-width="1.3" />
<line x1="87" y1="215.3" x2="90.8" y2="215.3" stroke="#3c3c3c" stroke-width="1" />
<text transform="translate(79.92 217.9) scale(1.0000 1)" font-size="7.7" fill="#1a1a1a" stroke="#1a1a1a" stroke-width="0.120" stroke-linejoin="round">0</text>
<line x1="88.5" y1="202.67" x2="90.8" y2="202.67" stroke="#3c3c3c" stroke-width="1" />
<line x1="87" y1="190.04" x2="90.8" y2="190.04" stroke="#3c3c3c" stroke-width="1" />
<text transform="translate(75.64 192.64) scale(1.0000 1)" font-size="7.7" fill="#1a1a1a" stroke="#1a1a1a" stroke-width="0.120" stroke-linejoin="round">20</text>
<line x1="88.5" y1="177.41" x2="90.8" y2="177.41" stroke="#3c3c3c" stroke-width="1" />
<line x1="87" y1="164.78" x2="90.8" y2="164.78" stroke="#3c3c3c" stroke-width="1" />
<text transform="translate(75.64 167.38) scale(1.0000 1)" font-size="7.7" fill="#1a1a1a" stroke="#1a1a1a" stroke-width="0.120" stroke-linejoin="round">40</text>
<line x1="88.5" y1="152.15" x2="90.8" y2="152.15" stroke="#3c3c3c" stroke-width="1" />
<line x1="87" y1="139.52" x2="90.8" y2="139.52" stroke="#3c3c3c" stroke-width="1" />
<text transform="translate(75.64 142.12) scale(1.0000 1)" font-size="7.7" fill="#1a1a1a" stroke="#1a1a1a" stroke-width="0.120" stroke-linejoin="round">60</text>
<line x1="88.5" y1="126.89" x2="90.8" y2="126.89" stroke="#3c3c3c" stroke-width="1" />
<line x1="87" y1="114.26" x2="90.8" y2="114.26" stroke="#3c3c3c" stroke-width="1" />
<text transform="translate(75.64 116.86) scale(1.0000 1)" font-size="7.7" fill="#1a1a1a" stroke="#1a1a1a" stroke-width="0.120" stroke-linejoin="round">80</text>
<line x1="88.5" y1="101.63" x2="90.8" y2="101.63" stroke="#3c3c3c" stroke-width="1" />
<line x1="87" y1="89" x2="90.8" y2="89" stroke="#3c3c3c" stroke-width="1" />
<text transform="translate(71.35 91.6) scale(1.0000 1)" font-size="7.7" fill="#1a1a1a" stroke="#1a1a1a" stroke-width="0.120" stroke-linejoin="round">100</text>
<line x1="88.5" y1="76.37" x2="90.8" y2="76.37" stroke="#3c3c3c" stroke-width="1" />
<line x1="87" y1="63.74" x2="90.8" y2="63.74" stroke="#3c3c3c" stroke-width="1" />
<text transform="translate(71.35 66.34) scale(1.0000 1)" font-size="7.7" fill="#1a1a1a" stroke="#1a1a1a" stroke-width="0.120" stroke-linejoin="round">120</text>
<line x1="88.5" y1="51.11" x2="90.8" y2="51.11" stroke="#3c3c3c" stroke-width="1" />
<line x1="87" y1="38.48" x2="90.8" y2="38.48" stroke="#3c3c3c" stroke-width="1" />
<text transform="translate(71.35 41.08) scale(1.0000 1)" font-size="7.7" fill="#1a1a1a" stroke="#1a1a1a" stroke-width="0.120" stroke-linejoin="round">140</text>
<line x1="88.5" y1="25.85" x2="90.8" y2="25.85" stroke="#3c3c3c" stroke-width="1" />
<line x1="90.8" y1="215.3" x2="90.8" y2="219.3" stroke="#3c3c3c" stroke-width="1" />
<line x1="142.58" y1="215.3" x2="142.58" y2="217.5" stroke="#3c3c3c" stroke-width="1" />
<line x1="172.86" y1="215.3" x2="172.86" y2="217.5" stroke="#3c3c3c" stroke-width="1" />
<line x1="194.35" y1="215.3" x2="194.35" y2="217.5" stroke="#3c3c3c" stroke-width="1" />
<line x1="211.02" y1="215.3" x2="211.02" y2="217.5" stroke="#3c3c3c" stroke-width="1" />
<line x1="224.64" y1="215.3" x2="224.64" y2="217.5" stroke="#3c3c3c" stroke-width="1" />
<line x1="236.16" y1="215.3" x2="236.16" y2="217.5" stroke="#3c3c3c" stroke-width="1" />
<line x1="246.13" y1="215.3" x2="246.13" y2="217.5" stroke="#3c3c3c" stroke-width="1" />
<line x1="254.93" y1="215.3" x2="254.93" y2="217.5" stroke="#3c3c3c" stroke-width="1" />
<line x1="262.8" y1="215.3" x2="262.8" y2="219.3" stroke="#3c3c3c" stroke-width="1" />
<line x1="314.58" y1="215.3" x2="314.58" y2="217.5" stroke="#3c3c3c" stroke-width="1" />
<line x1="344.86" y1="215.3" x2="344.86" y2="217.5" stroke="#3c3c3c" stroke-width="1" />
<text transform="translate(88.47 228) scale(1.0000 1)" font-size="8" fill="#1a1a1a" stroke="#1a1a1a" stroke-width="0.120" stroke-linejoin="round">1</text>
<text transform="translate(258.4 227.8) scale(1.0000 1)" font-size="8" fill="#1a1a1a" stroke="#1a1a1a" stroke-width="0.120" stroke-linejoin="round">10</text>
<text transform="translate(128.29 164.4) scale(0.8500 1)" font-size="9.7" fill="#111" stroke="#111" stroke-width="0.200" stroke-linejoin="round">1</text>
<text transform="translate(134.41 93.9) scale(0.8500 1)" font-size="9.7" fill="#111" stroke="#111" stroke-width="0.200" stroke-linejoin="round">2</text>
<text transform="translate(142.83 50.1) scale(0.8500 1)" font-size="9.7" fill="#111" stroke="#111" stroke-width="0.200" stroke-linejoin="round">3</text>
<text transform="translate(148.23 33.8) scale(0.8500 1)" font-size="9.7" fill="#111" stroke="#111" stroke-width="0.200" stroke-linejoin="round">4</text>
<text transform="translate(156.42 36.4) scale(0.8500 1)" font-size="9.7" fill="#111" stroke="#111" stroke-width="0.200" stroke-linejoin="round">5</text>
<path d="M154.6 41.3 L154.6 40.3 Q154.6 39.6 155.3 39.6 L157.8 39.6 Q158.5 39.6 158.7 38.9 Q158.9 39.6 159.6 39.6 L162.1 39.6 Q162.8 39.6 162.8 40.3 L162.8 41.3" fill="none" stroke="#222" stroke-width="0.9"/>
<text transform="translate(164.38 53.1) scale(0.8500 1)" font-size="9.7" fill="#111" stroke="#111" stroke-width="0.200" stroke-linejoin="round">6</text>
<path d="M162.6 58.5 L162.6 57.5 Q162.6 56.8 163.3 56.8 L165.8 56.8 Q166.5 56.8 166.7 56.1 Q166.9 56.8 167.6 56.8 L170.1 56.8 Q170.8 56.8 170.8 57.5 L170.8 58.5" fill="none" stroke="#222" stroke-width="0.9"/>
<text transform="translate(173.9 69.1) scale(0.8500 1)" font-size="9.7" fill="#111" stroke="#111" stroke-width="0.200" stroke-linejoin="round">7</text>
<path d="M172.1 75.5 L172.1 74.5 Q172.1 73.8 172.8 73.8 L175.3 73.8 Q176 73.8 176.2 73.1 Q176.4 73.8 177.1 73.8 L179.6 73.8 Q180.3 73.8 180.3 74.5 L180.3 75.5" fill="none" stroke="#222" stroke-width="0.9"/>
<text transform="translate(183.71 87.4) scale(0.8500 1)" font-size="9.7" fill="#111" stroke="#111" stroke-width="0.200" stroke-linejoin="round">8</text>
<path d="M181.9 93 L181.9 92 Q181.9 91.3 182.6 91.3 L185.1 91.3 Q185.8 91.3 186 90.6 Q186.2 91.3 186.9 91.3 L189.4 91.3 Q190.1 91.3 190.1 92 L190.1 93" fill="none" stroke="#222" stroke-width="0.9"/>
<text transform="translate(191.31 102.4) scale(0.8500 1)" font-size="9.7" fill="#111" stroke="#111" stroke-width="0.200" stroke-linejoin="round">9</text>
<path d="M189.5 108.7 L189.5 107.7 Q189.5 107 190.2 107 L192.7 107 Q193.4 107 193.6 106.3 Q193.8 107 194.5 107 L197 107 Q197.7 107 197.7 107.7 L197.7 108.7" fill="none" stroke="#222" stroke-width="0.9"/>
<text transform="translate(199.66 117.1) scale(0.8500 1)" font-size="9.7" fill="#111" stroke="#111" stroke-width="0.200" stroke-linejoin="round">10</text>
<path d="M200.3 122.7 L200.3 121.7 Q200.3 121 201 121 L203.5 121 Q204.2 121 204.4 120.3 Q204.6 121 205.3 121 L207.8 121 Q208.5 121 208.5 121.7 L208.5 122.7" fill="none" stroke="#222" stroke-width="0.9"/>
<text transform="translate(209.8 131.4) scale(0.8500 1)" font-size="9.7" fill="#111" stroke="#111" stroke-width="0.200" stroke-linejoin="round">11</text>
<path d="M210.4 136.7 L210.4 135.7 Q210.4 135 211.1 135 L213.6 135 Q214.3 135 214.5 134.3 Q214.7 135 215.4 135 L217.9 135 Q218.6 135 218.6 135.7 L218.6 136.7" fill="none" stroke="#222" stroke-width="0.9"/>
<text transform="translate(219.81 142.4) scale(0.8500 1)" font-size="9.7" fill="#111" stroke="#111" stroke-width="0.200" stroke-linejoin="round">12</text>
<path d="M220.4 148.3 L220.4 147.3 Q220.4 146.6 221.1 146.6 L223.6 146.6 Q224.3 146.6 224.5 145.9 Q224.7 146.6 225.4 146.6 L227.9 146.6 Q228.6 146.6 228.6 147.3 L228.6 148.3" fill="none" stroke="#222" stroke-width="0.9"/>
<text transform="translate(231.78 149.4) scale(0.8500 1)" font-size="9.7" fill="#111" stroke="#111" stroke-width="0.200" stroke-linejoin="round">13</text>
<path d="M232.4 155.3 L232.4 154.3 Q232.4 153.6 233.1 153.6 L235.6 153.6 Q236.3 153.6 236.5 152.9 Q236.7 153.6 237.4 153.6 L239.9 153.6 Q240.6 153.6 240.6 154.3 L240.6 155.3" fill="none" stroke="#222" stroke-width="0.9"/>
<text transform="translate(241.52 160.2) scale(0.8500 1)" font-size="9.7" fill="#111" stroke="#111" stroke-width="0.200" stroke-linejoin="round">14</text>
<path d="M242.2 165.1 L242.2 164.1 Q242.2 163.4 242.9 163.4 L245.4 163.4 Q246.1 163.4 246.3 162.7 Q246.5 163.4 247.2 163.4 L249.7 163.4 Q250.4 163.4 250.4 164.1 L250.4 165.1" fill="none" stroke="#222" stroke-width="0.9"/>
<text transform="translate(253.87 169.9) scale(0.8500 1)" font-size="9.7" fill="#111" stroke="#111" stroke-width="0.200" stroke-linejoin="round">15</text>
<path d="M254.5 175.2 L254.5 174.2 Q254.5 173.5 255.2 173.5 L257.7 173.5 Q258.4 173.5 258.6 172.8 Q258.8 173.5 259.5 173.5 L262 173.5 Q262.7 173.5 262.7 174.2 L262.7 175.2" fill="none" stroke="#222" stroke-width="0.9"/>
<text transform="translate(265.78 178.1) scale(0.8500 1)" font-size="9.7" fill="#111" stroke="#111" stroke-width="0.200" stroke-linejoin="round">16</text>
<path d="M266.4 183.1 L266.4 182.1 Q266.4 181.4 267.1 181.4 L269.6 181.4 Q270.3 181.4 270.5 180.7 Q270.7 181.4 271.4 181.4 L273.9 181.4 Q274.6 181.4 274.6 182.1 L274.6 183.1" fill="none" stroke="#222" stroke-width="0.9"/>
<text transform="translate(277.31 187.1) scale(0.8500 1)" font-size="9.7" fill="#111" stroke="#111" stroke-width="0.200" stroke-linejoin="round">17</text>
<path d="M277.9 191.9 L277.9 190.9 Q277.9 190.2 278.6 190.2 L281.1 190.2 Q281.8 190.2 282 189.5 Q282.2 190.2 282.9 190.2 L285.4 190.2 Q286.1 190.2 286.1 190.9 L286.1 191.9" fill="none" stroke="#222" stroke-width="0.9"/>
<text transform="translate(290.28 191.4) scale(0.8500 1)" font-size="9.7" fill="#111" stroke="#111" stroke-width="0.200" stroke-linejoin="round">18</text>
<path d="M290.9 197.3 L290.9 196.3 Q290.9 195.6 291.6 195.6 L294.1 195.6 Q294.8 195.6 295 194.9 Q295.2 195.6 295.9 195.6 L298.4 195.6 Q299.1 195.6 299.1 196.3 L299.1 197.3" fill="none" stroke="#222" stroke-width="0.9"/>
<text transform="translate(302.3 197.4) scale(0.8500 1)" font-size="9.7" fill="#111" stroke="#111" stroke-width="0.200" stroke-linejoin="round">19</text>
<path d="M302.9 203.3 L302.9 202.3 Q302.9 201.6 303.6 201.6 L306.1 201.6 Q306.8 201.6 307 200.9 Q307.2 201.6 307.9 201.6 L310.4 201.6 Q311.1 201.6 311.1 202.3 L311.1 203.3" fill="none" stroke="#222" stroke-width="0.9"/>
<text transform="translate(314.37 202.4) scale(0.8500 1)" font-size="9.7" fill="#111" stroke="#111" stroke-width="0.200" stroke-linejoin="round">20</text>
<path d="M314.9 207.7 L314.9 206.7 Q314.9 206 315.6 206 L318.1 206 Q318.8 206 319 205.3 Q319.2 206 319.9 206 L322.4 206 Q323.1 206 323.1 206.7 L323.1 207.7" fill="none" stroke="#222" stroke-width="0.9"/>
<text transform="translate(327.41 204) scale(0.8500 1)" font-size="9.7" fill="#111" stroke="#111" stroke-width="0.200" stroke-linejoin="round">21</text>
<path d="M327.9 207.7 L327.9 206.7 Q327.9 206 328.6 206 L331.1 206 Q331.8 206 332 205.3 Q332.2 206 332.9 206 L335.4 206 Q336.1 206 336.1 206.7 L336.1 207.7" fill="none" stroke="#222" stroke-width="0.9"/>
<line x1="199.7" y1="50.8" x2="220.8" y2="50.8" stroke="#000" stroke-width="1" />
<line x1="199.7" y1="62.6" x2="220.8" y2="62.6" stroke="#4a5ab4" stroke-width="1" />
<text transform="translate(224.44 54.7) scale(0.9785 1)" font-size="11.919" fill="#1a1a1a" stroke="#1a1a1a" stroke-width="0.200" stroke-linejoin="round" >H-PDMS-H</text>
<text transform="translate(224.44 66.2) scale(1.0066 1)" font-size="11.628" fill="#1a1a1a" stroke="#1a1a1a" stroke-width="0.200" stroke-linejoin="round" >Ring polymer mixture</text>
<text transform="translate(53.7 132.57) rotate(-90) scale(0.9723 1)" font-size="12.209" fill="#1a1a1a" stroke="#1a1a1a" stroke-width="0.200" stroke-linejoin="round">RI Signal</text>
<text transform="translate(154.07 242.9) scale(1.0085 1)" font-size="12.500" fill="#1a1a1a" stroke="#1a1a1a" stroke-width="0.200" stroke-linejoin="round" >Retention Volume (mL)</text>
<text transform="matrix(0.20178 0 0 0.26888 0.02 20.76)" font-size="100" fill="#1a1a1a" stroke="#1a1a1a" stroke-width="1.302" stroke-linejoin="round">(</text>
<text transform="matrix(0.26166 0 0 0.29870 9.82 22.62)" font-size="100" fill="#1a1a1a" stroke="#1a1a1a" stroke-width="1.172" stroke-linejoin="round">A</text>
<text transform="matrix(0.19801 0 0 0.26888 29.56 20.76)" font-size="100" fill="#1a1a1a" stroke="#1a1a1a" stroke-width="1.302" stroke-linejoin="round">)</text>
<polyline points="453.78,198.8 465.26,146.6 476.74,101.2 488.22,80 499.7,61 511.18,63.7 522.66,70.9 534.14,75.4 545.62,84.5 557.1,93.3 568.58,99.7 580.06,94.9 591.54,87.7 603.02,94.9 614.5,103.3 625.98,104.5 637.46,116.5 648.94,117.7 660.42,141.7 671.9,162.2 683.38,158" fill="none" stroke="#8a96dc" stroke-width="0.8" stroke-dasharray="1.6,1"/>
<polyline points="453.78,185.9 465.26,132.9 476.74,89.7 488.22,60.8 499.7,45.8 511.18,40 522.66,43.7 534.14,49.8 545.62,54.4 557.1,64.5 568.58,78.9 580.06,89 591.54,101 603.02,105 614.5,122 625.98,137.4 637.46,144.6 648.94,142.2 660.42,159.3 671.9,162.6 683.38,162.6" fill="none" stroke="#555" stroke-width="0.8" stroke-dasharray="2,0.8"/>
<polygon points="453.78,195.99 451.08,200.67 456.48,200.67" fill="#fff" stroke="#8a96dc" stroke-width="0.8"/>
<polygon points="465.26,143.79 462.56,148.47 467.96,148.47" fill="#fff" stroke="#8a96dc" stroke-width="0.8"/>
<polygon points="476.74,98.39 474.04,103.07 479.44,103.07" fill="#fff" stroke="#8a96dc" stroke-width="0.8"/>
<polygon points="488.22,77.19 485.52,81.87 490.92,81.87" fill="#fff" stroke="#8a96dc" stroke-width="0.8"/>
<polygon points="499.7,58.19 497,62.87 502.4,62.87" fill="#fff" stroke="#8a96dc" stroke-width="0.8"/>
<polygon points="511.18,60.89 508.48,65.57 513.88,65.57" fill="#fff" stroke="#8a96dc" stroke-width="0.8"/>
<polygon points="522.66,68.09 519.96,72.77 525.36,72.77" fill="#fff" stroke="#8a96dc" stroke-width="0.8"/>
<polygon points="534.14,72.59 531.44,77.27 536.84,77.27" fill="#fff" stroke="#8a96dc" stroke-width="0.8"/>
<polygon points="545.62,81.69 542.92,86.37 548.32,86.37" fill="#fff" stroke="#8a96dc" stroke-width="0.8"/>
<polygon points="557.1,90.49 554.4,95.17 559.8,95.17" fill="#fff" stroke="#8a96dc" stroke-width="0.8"/>
<polygon points="568.58,96.89 565.88,101.57 571.28,101.57" fill="#fff" stroke="#8a96dc" stroke-width="0.8"/>
<polygon points="580.06,92.09 577.36,96.77 582.76,96.77" fill="#fff" stroke="#8a96dc" stroke-width="0.8"/>
<polygon points="591.54,84.89 588.84,89.57 594.24,89.57" fill="#fff" stroke="#8a96dc" stroke-width="0.8"/>
<polygon points="603.02,92.09 600.32,96.77 605.72,96.77" fill="#fff" stroke="#8a96dc" stroke-width="0.8"/>
<polygon points="614.5,100.49 611.8,105.17 617.2,105.17" fill="#fff" stroke="#8a96dc" stroke-width="0.8"/>
<polygon points="625.98,101.69 623.28,106.37 628.68,106.37" fill="#fff" stroke="#8a96dc" stroke-width="0.8"/>
<polygon points="637.46,113.69 634.76,118.37 640.16,118.37" fill="#fff" stroke="#8a96dc" stroke-width="0.8"/>
<polygon points="648.94,114.89 646.24,119.57 651.64,119.57" fill="#fff" stroke="#8a96dc" stroke-width="0.8"/>
<polygon points="660.42,138.89 657.72,143.57 663.12,143.57" fill="#fff" stroke="#8a96dc" stroke-width="0.8"/>
<polygon points="671.9,159.39 669.2,164.07 674.6,164.07" fill="#fff" stroke="#8a96dc" stroke-width="0.8"/>
<polygon points="683.38,155.19 680.68,159.87 686.08,159.87" fill="#fff" stroke="#8a96dc" stroke-width="0.8"/>
<rect x="451.68" y="183.8" width="4.2" height="4.2" fill="#000"/>
<rect x="463.16" y="130.8" width="4.2" height="4.2" fill="#000"/>
<rect x="474.64" y="87.6" width="4.2" height="4.2" fill="#000"/>
<rect x="486.12" y="58.7" width="4.2" height="4.2" fill="#000"/>
<rect x="497.6" y="43.7" width="4.2" height="4.2" fill="#000"/>
<rect x="509.08" y="37.9" width="4.2" height="4.2" fill="#000"/>
<rect x="520.56" y="41.6" width="4.2" height="4.2" fill="#000"/>
<rect x="532.04" y="47.7" width="4.2" height="4.2" fill="#000"/>
<rect x="543.52" y="52.3" width="4.2" height="4.2" fill="#000"/>
<rect x="555" y="62.4" width="4.2" height="4.2" fill="#000"/>
<rect x="566.48" y="76.8" width="4.2" height="4.2" fill="#000"/>
<rect x="577.96" y="86.9" width="4.2" height="4.2" fill="#000"/>
<rect x="589.44" y="98.9" width="4.2" height="4.2" fill="#000"/>
<rect x="600.92" y="102.9" width="4.2" height="4.2" fill="#000"/>
<rect x="612.4" y="119.9" width="4.2" height="4.2" fill="#000"/>
<rect x="623.88" y="135.3" width="4.2" height="4.2" fill="#000"/>
<rect x="635.36" y="142.5" width="4.2" height="4.2" fill="#000"/>
<rect x="646.84" y="140.1" width="4.2" height="4.2" fill="#000"/>
<rect x="658.32" y="157.2" width="4.2" height="4.2" fill="#000"/>
<rect x="669.8" y="160.5" width="4.2" height="4.2" fill="#000"/>
<rect x="681.28" y="160.5" width="4.2" height="4.2" fill="#000"/>
<rect x="442" y="26.2" width="253" height="189.4" fill="none" stroke="#3c3c3c" stroke-width="1.1"/>
<line x1="437.5" y1="215.6" x2="442" y2="215.6" stroke="#3c3c3c" stroke-width="1" />
<text transform="translate(427.31 218.45) scale(1.0000 1)" font-size="8.1" fill="#1a1a1a" stroke="#1a1a1a" stroke-width="0.050" stroke-linejoin="round">0</text>
<line x1="439.7" y1="206.99" x2="442" y2="206.99" stroke="#3c3c3c" stroke-width="1" />
<line x1="437.5" y1="198.38" x2="442" y2="198.38" stroke="#3c3c3c" stroke-width="1" />
<text transform="translate(427.4 201.23) scale(1.0000 1)" font-size="8.1" fill="#1a1a1a" stroke="#1a1a1a" stroke-width="0.050" stroke-linejoin="round">2</text>
<line x1="439.7" y1="189.77" x2="442" y2="189.77" stroke="#3c3c3c" stroke-width="1" />
<line x1="437.5" y1="181.16" x2="442" y2="181.16" stroke="#3c3c3c" stroke-width="1" />
<text transform="translate(427.23 184.01) scale(1.0000 1)" font-size="8.1" fill="#1a1a1a" stroke="#1a1a1a" stroke-width="0.050" stroke-linejoin="round">4</text>
<line x1="439.7" y1="172.55" x2="442" y2="172.55" stroke="#3c3c3c" stroke-width="1" />
<line x1="437.5" y1="163.94" x2="442" y2="163.94" stroke="#3c3c3c" stroke-width="1" />
<text transform="translate(427.35 166.79) scale(1.0000 1)" font-size="8.1" fill="#1a1a1a" stroke="#1a1a1a" stroke-width="0.050" stroke-linejoin="round">6</text>
<line x1="439.7" y1="155.33" x2="442" y2="155.33" stroke="#3c3c3c" stroke-width="1" />
<line x1="437.5" y1="146.72" x2="442" y2="146.72" stroke="#3c3c3c" stroke-width="1" />
<text transform="translate(427.35 149.57) scale(1.0000 1)" font-size="8.1" fill="#1a1a1a" stroke="#1a1a1a" stroke-width="0.050" stroke-linejoin="round">8</text>
<line x1="439.7" y1="138.11" x2="442" y2="138.11" stroke="#3c3c3c" stroke-width="1" />
<line x1="437.5" y1="129.5" x2="442" y2="129.5" stroke="#3c3c3c" stroke-width="1" />
<text transform="translate(422.81 132.35) scale(1.0000 1)" font-size="8.1" fill="#1a1a1a" stroke="#1a1a1a" stroke-width="0.050" stroke-linejoin="round">10</text>
<line x1="439.7" y1="120.89" x2="442" y2="120.89" stroke="#3c3c3c" stroke-width="1" />
<line x1="437.5" y1="112.28" x2="442" y2="112.28" stroke="#3c3c3c" stroke-width="1" />
<text transform="translate(422.9 115.13) scale(1.0000 1)" font-size="8.1" fill="#1a1a1a" stroke="#1a1a1a" stroke-width="0.050" stroke-linejoin="round">12</text>
<line x1="439.7" y1="103.67" x2="442" y2="103.67" stroke="#3c3c3c" stroke-width="1" />
<line x1="437.5" y1="95.06" x2="442" y2="95.06" stroke="#3c3c3c" stroke-width="1" />
<text transform="translate(422.73 97.91) scale(1.0000 1)" font-size="8.1" fill="#1a1a1a" stroke="#1a1a1a" stroke-width="0.050" stroke-linejoin="round">14</text>
<line x1="439.7" y1="86.45" x2="442" y2="86.45" stroke="#3c3c3c" stroke-width="1" />
<line x1="437.5" y1="77.84" x2="442" y2="77.84" stroke="#3c3c3c" stroke-width="1" />
<text transform="translate(422.85 80.69) scale(1.0000 1)" font-size="8.1" fill="#1a1a1a" stroke="#1a1a1a" stroke-width="0.050" stroke-linejoin="round">16</text>
<line x1="439.7" y1="69.23" x2="442" y2="69.23" stroke="#3c3c3c" stroke-width="1" />
<line x1="437.5" y1="60.62" x2="442" y2="60.62" stroke="#3c3c3c" stroke-width="1" />
<text transform="translate(422.84 63.47) scale(1.0000 1)" font-size="8.1" fill="#1a1a1a" stroke="#1a1a1a" stroke-width="0.050" stroke-linejoin="round">18</text>
<line x1="439.7" y1="52.01" x2="442" y2="52.01" stroke="#3c3c3c" stroke-width="1" />
<line x1="437.5" y1="43.4" x2="442" y2="43.4" stroke="#3c3c3c" stroke-width="1" />
<text transform="translate(422.81 46.25) scale(1.0000 1)" font-size="8.1" fill="#1a1a1a" stroke="#1a1a1a" stroke-width="0.050" stroke-linejoin="round">20</text>
<line x1="439.7" y1="34.79" x2="442" y2="34.79" stroke="#3c3c3c" stroke-width="1" />
<line x1="437.5" y1="26.18" x2="442" y2="26.18" stroke="#3c3c3c" stroke-width="1" />
<text transform="translate(422.9 29.03) scale(1.0000 1)" font-size="8.1" fill="#1a1a1a" stroke="#1a1a1a" stroke-width="0.050" stroke-linejoin="round">22</text>
<line x1="442.3" y1="215.6" x2="442.3" y2="218.8" stroke="#3c3c3c" stroke-width="1" />
<text transform="translate(439.58 228.1) scale(1.0000 1)" font-size="8" fill="#1a1a1a" stroke="#1a1a1a" stroke-width="0.120" stroke-linejoin="round">0</text>
<line x1="453.78" y1="215.6" x2="453.78" y2="217.4" stroke="#3c3c3c" stroke-width="1" />
<line x1="465.26" y1="215.6" x2="465.26" y2="217.4" stroke="#3c3c3c" stroke-width="1" />
<line x1="476.74" y1="215.6" x2="476.74" y2="217.4" stroke="#3c3c3c" stroke-width="1" />
<line x1="488.22" y1="215.6" x2="488.22" y2="217.4" stroke="#3c3c3c" stroke-width="1" />
<line x1="499.7" y1="215.6" x2="499.7" y2="218.8" stroke="#3c3c3c" stroke-width="1" />
<text transform="translate(497.48 228.1) scale(1.0000 1)" font-size="8" fill="#1a1a1a" stroke="#1a1a1a" stroke-width="0.120" stroke-linejoin="round">5</text>
<line x1="511.18" y1="215.6" x2="511.18" y2="217.4" stroke="#3c3c3c" stroke-width="1" />
<line x1="522.66" y1="215.6" x2="522.66" y2="217.4" stroke="#3c3c3c" stroke-width="1" />
<line x1="534.14" y1="215.6" x2="534.14" y2="217.4" stroke="#3c3c3c" stroke-width="1" />
<line x1="545.62" y1="215.6" x2="545.62" y2="217.4" stroke="#3c3c3c" stroke-width="1" />
<line x1="557.1" y1="215.6" x2="557.1" y2="218.8" stroke="#3c3c3c" stroke-width="1" />
<text transform="translate(552.5 228.1) scale(1.0000 1)" font-size="8" fill="#1a1a1a" stroke="#1a1a1a" stroke-width="0.120" stroke-linejoin="round">10</text>
<line x1="568.58" y1="215.6" x2="568.58" y2="217.4" stroke="#3c3c3c" stroke-width="1" />
<line x1="580.06" y1="215.6" x2="580.06" y2="217.4" stroke="#3c3c3c" stroke-width="1" />
<line x1="591.54" y1="215.6" x2="591.54" y2="217.4" stroke="#3c3c3c" stroke-width="1" />
<line x1="603.02" y1="215.6" x2="603.02" y2="217.4" stroke="#3c3c3c" stroke-width="1" />
<line x1="614.5" y1="215.6" x2="614.5" y2="218.8" stroke="#3c3c3c" stroke-width="1" />
<text transform="translate(609.91 228.1) scale(1.0000 1)" font-size="8" fill="#1a1a1a" stroke="#1a1a1a" stroke-width="0.120" stroke-linejoin="round">15</text>
<line x1="625.98" y1="215.6" x2="625.98" y2="217.4" stroke="#3c3c3c" stroke-width="1" />
<line x1="637.46" y1="215.6" x2="637.46" y2="217.4" stroke="#3c3c3c" stroke-width="1" />
<line x1="648.94" y1="215.6" x2="648.94" y2="217.4" stroke="#3c3c3c" stroke-width="1" />
<line x1="660.42" y1="215.6" x2="660.42" y2="217.4" stroke="#3c3c3c" stroke-width="1" />
<line x1="671.9" y1="215.6" x2="671.9" y2="218.8" stroke="#3c3c3c" stroke-width="1" />
<text transform="translate(667.41 228.1) scale(1.0000 1)" font-size="8" fill="#1a1a1a" stroke="#1a1a1a" stroke-width="0.120" stroke-linejoin="round">20</text>
<line x1="683.38" y1="215.6" x2="683.38" y2="217.4" stroke="#3c3c3c" stroke-width="1" />
<line x1="694.86" y1="215.6" x2="694.86" y2="217.4" stroke="#3c3c3c" stroke-width="1" />
<line x1="559.5" y1="39.2" x2="576.4" y2="39.2" stroke="#666" stroke-width="0.7" />
<rect x="566.1" y="37.2" width="4.2" height="4.2" fill="#000"/>
<line x1="559.5" y1="50.6" x2="576.4" y2="50.6" stroke="#b0b8e8" stroke-width="0.7" />
<polygon points="568.2,47.79 565.5,52.47 570.9,52.47" fill="#fff" stroke="#8a96dc" stroke-width="0.8"/>
<text transform="translate(580.03 42.9) scale(1.0319 1)" font-size="11.483" fill="#1a1a1a" stroke="#1a1a1a" stroke-width="0.200" stroke-linejoin="round" >H-PDMS-H</text>
<text transform="translate(580.05 54.8) scale(1.0268 1)" font-size="11.337" fill="#1a1a1a" stroke="#1a1a1a" stroke-width="0.200" stroke-linejoin="round" >Ring polymer mixture</text>
<text transform="translate(414.6 182.5) rotate(-90) scale(0.7821 1)" font-size="13.953" fill="#1a1a1a" stroke="#1a1a1a" stroke-width="0.200" stroke-linejoin="round">RI Area</text>
<text transform="translate(416.54 138.44) rotate(-90) scale(0.14166 0.20157)" font-size="100" fill="#1a1a1a">~</text>
<text transform="translate(414.6 127.56) rotate(-90) scale(0.9266 1)" font-size="13.953" fill="#1a1a1a" stroke="#1a1a1a" stroke-width="0.200" stroke-linejoin="round">Concentration</text>
<text transform="translate(532.08 242.7) scale(0.9984 1)" font-size="12.500" fill="#1a1a1a" stroke="#1a1a1a" stroke-width="0.200" stroke-linejoin="round" >Peak number</text>
<text transform="matrix(0.21687 0 0 0.26888 358.53 20.76)" font-size="100" fill="#1a1a1a" stroke="#1a1a1a" stroke-width="1.302" stroke-linejoin="round">(</text>
<text transform="matrix(0.25271 0 0 0.30451 369.4 23.02)" font-size="100" fill="#1a1a1a" stroke="#1a1a1a" stroke-width="1.149" stroke-linejoin="round">B</text>
<text transform="matrix(0.19801 0 0 0.26888 388.26 20.76)" font-size="100" fill="#1a1a1a" stroke="#1a1a1a" stroke-width="1.302" stroke-linejoin="round">)</text>
<rect x="90.6" y="265.5" width="253.4" height="189.1" fill="none" stroke="#3c3c3c" stroke-width="1.1"/>
<line x1="87.1" y1="454.6" x2="90.6" y2="454.6" stroke="#3c3c3c" stroke-width="1" />
<text transform="translate(64.2 457.3) scale(0.9800 1)" font-size="8.2" fill="#1a1a1a" stroke="#1a1a1a" stroke-width="0.120" stroke-linejoin="round">0.000</text>
<line x1="88.6" y1="438.85" x2="90.6" y2="438.85" stroke="#3c3c3c" stroke-width="1" />
<line x1="87.1" y1="423.1" x2="90.6" y2="423.1" stroke="#3c3c3c" stroke-width="1" />
<text transform="translate(64.28 425.8) scale(0.9800 1)" font-size="8.2" fill="#1a1a1a" stroke="#1a1a1a" stroke-width="0.120" stroke-linejoin="round">0.001</text>
<line x1="88.6" y1="407.35" x2="90.6" y2="407.35" stroke="#3c3c3c" stroke-width="1" />
<line x1="87.1" y1="391.6" x2="90.6" y2="391.6" stroke="#3c3c3c" stroke-width="1" />
<text transform="translate(64.29 394.3) scale(0.9800 1)" font-size="8.2" fill="#1a1a1a" stroke="#1a1a1a" stroke-width="0.120" stroke-linejoin="round">0.002</text>
<line x1="88.6" y1="375.85" x2="90.6" y2="375.85" stroke="#3c3c3c" stroke-width="1" />
<line x1="87.1" y1="360.1" x2="90.6" y2="360.1" stroke="#3c3c3c" stroke-width="1" />
<text transform="translate(64.24 362.8) scale(0.9800 1)" font-size="8.2" fill="#1a1a1a" stroke="#1a1a1a" stroke-width="0.120" stroke-linejoin="round">0.003</text>
<line x1="88.6" y1="344.35" x2="90.6" y2="344.35" stroke="#3c3c3c" stroke-width="1" />
<line x1="87.1" y1="328.6" x2="90.6" y2="328.6" stroke="#3c3c3c" stroke-width="1" />
<text transform="translate(64.13 331.3) scale(0.9800 1)" font-size="8.2" fill="#1a1a1a" stroke="#1a1a1a" stroke-width="0.120" stroke-linejoin="round">0.004</text>
<line x1="88.6" y1="312.85" x2="90.6" y2="312.85" stroke="#3c3c3c" stroke-width="1" />
<line x1="87.1" y1="297.1" x2="90.6" y2="297.1" stroke="#3c3c3c" stroke-width="1" />
<text transform="translate(64.23 299.8) scale(0.9800 1)" font-size="8.2" fill="#1a1a1a" stroke="#1a1a1a" stroke-width="0.120" stroke-linejoin="round">0.005</text>
<line x1="88.6" y1="281.35" x2="90.6" y2="281.35" stroke="#3c3c3c" stroke-width="1" />
<line x1="87.1" y1="265.6" x2="90.6" y2="265.6" stroke="#3c3c3c" stroke-width="1" />
<text transform="translate(64.24 268.3) scale(0.9800 1)" font-size="8.2" fill="#1a1a1a" stroke="#1a1a1a" stroke-width="0.120" stroke-linejoin="round">0.006</text>
<line x1="101.45" y1="454.6" x2="101.45" y2="457.9" stroke="#3c3c3c" stroke-width="1" />
<text transform="translate(98.63 467) scale(1.0000 1)" font-size="8" fill="#1a1a1a" stroke="#1a1a1a" stroke-width="0.120" stroke-linejoin="round">0</text>
<line x1="112" y1="454.6" x2="112" y2="456.4" stroke="#3c3c3c" stroke-width="1" />
<line x1="122.55" y1="454.6" x2="122.55" y2="456.4" stroke="#3c3c3c" stroke-width="1" />
<line x1="133.1" y1="454.6" x2="133.1" y2="456.4" stroke="#3c3c3c" stroke-width="1" />
<line x1="143.65" y1="454.6" x2="143.65" y2="456.4" stroke="#3c3c3c" stroke-width="1" />
<line x1="154.2" y1="454.6" x2="154.2" y2="457.9" stroke="#3c3c3c" stroke-width="1" />
<text transform="translate(151.38 467) scale(1.0000 1)" font-size="8" fill="#1a1a1a" stroke="#1a1a1a" stroke-width="0.120" stroke-linejoin="round">5</text>
<line x1="164.75" y1="454.6" x2="164.75" y2="456.4" stroke="#3c3c3c" stroke-width="1" />
<line x1="175.3" y1="454.6" x2="175.3" y2="456.4" stroke="#3c3c3c" stroke-width="1" />
<line x1="185.85" y1="454.6" x2="185.85" y2="456.4" stroke="#3c3c3c" stroke-width="1" />
<line x1="196.4" y1="454.6" x2="196.4" y2="456.4" stroke="#3c3c3c" stroke-width="1" />
<line x1="206.95" y1="454.6" x2="206.95" y2="457.9" stroke="#3c3c3c" stroke-width="1" />
<text transform="translate(201.75 467) scale(1.0000 1)" font-size="8" fill="#1a1a1a" stroke="#1a1a1a" stroke-width="0.120" stroke-linejoin="round">10</text>
<line x1="217.5" y1="454.6" x2="217.5" y2="456.4" stroke="#3c3c3c" stroke-width="1" />
<line x1="228.05" y1="454.6" x2="228.05" y2="456.4" stroke="#3c3c3c" stroke-width="1" />
<line x1="238.6" y1="454.6" x2="238.6" y2="456.4" stroke="#3c3c3c" stroke-width="1" />
<line x1="249.15" y1="454.6" x2="249.15" y2="456.4" stroke="#3c3c3c" stroke-width="1" />
<line x1="259.7" y1="454.6" x2="259.7" y2="457.9" stroke="#3c3c3c" stroke-width="1" />
<text transform="translate(254.51 467) scale(1.0000 1)" font-size="8" fill="#1a1a1a" stroke="#1a1a1a" stroke-width="0.120" stroke-linejoin="round">15</text>
<line x1="270.25" y1="454.6" x2="270.25" y2="456.4" stroke="#3c3c3c" stroke-width="1" />
<line x1="280.8" y1="454.6" x2="280.8" y2="456.4" stroke="#3c3c3c" stroke-width="1" />
<line x1="291.35" y1="454.6" x2="291.35" y2="456.4" stroke="#3c3c3c" stroke-width="1" />
<line x1="301.9" y1="454.6" x2="301.9" y2="456.4" stroke="#3c3c3c" stroke-width="1" />
<line x1="312.45" y1="454.6" x2="312.45" y2="457.9" stroke="#3c3c3c" stroke-width="1" />
<text transform="translate(307.36 467) scale(1.0000 1)" font-size="8" fill="#1a1a1a" stroke="#1a1a1a" stroke-width="0.120" stroke-linejoin="round">20</text>
<line x1="323" y1="454.6" x2="323" y2="456.4" stroke="#3c3c3c" stroke-width="1" />
<line x1="333.55" y1="454.6" x2="333.55" y2="456.4" stroke="#3c3c3c" stroke-width="1" />
<rect x="109.9" y="430.1" width="4.2" height="4.2" fill="#000"/>
<rect x="120.45" y="435.9" width="4.2" height="4.2" fill="#000"/>
<rect x="131" y="436.8" width="4.2" height="4.2" fill="#000"/>
<rect x="141.55" y="438.1" width="4.2" height="4.2" fill="#000"/>
<rect x="152.1" y="435.7" width="4.2" height="4.2" fill="#000"/>
<rect x="162.65" y="429" width="4.2" height="4.2" fill="#000"/>
<rect x="173.2" y="427.9" width="4.2" height="4.2" fill="#000"/>
<rect x="183.75" y="426.1" width="4.2" height="4.2" fill="#000"/>
<rect x="194.3" y="426.6" width="4.2" height="4.2" fill="#000"/>
<rect x="204.85" y="426.4" width="4.2" height="4.2" fill="#000"/>
<rect x="215.4" y="416.5" width="4.2" height="4.2" fill="#000"/>
<rect x="225.95" y="420.8" width="4.2" height="4.2" fill="#000"/>
<rect x="236.5" y="424.9" width="4.2" height="4.2" fill="#000"/>
<rect x="247.05" y="413.9" width="4.2" height="4.2" fill="#000"/>
<rect x="257.6" y="417.4" width="4.2" height="4.2" fill="#000"/>
<rect x="268.15" y="409.5" width="4.2" height="4.2" fill="#000"/>
<rect x="278.7" y="391.5" width="4.2" height="4.2" fill="#000"/>
<rect x="289.25" y="354.2" width="4.2" height="4.2" fill="#000"/>
<rect x="299.8" y="369.2" width="4.2" height="4.2" fill="#000"/>
<polygon points="112,431.89 109.3,436.57 114.7,436.57" fill="#fff" stroke="#8a96dc" stroke-width="0.8"/>
<polygon points="122.55,437.79 119.85,442.47 125.25,442.47" fill="#fff" stroke="#8a96dc" stroke-width="0.8"/>
<polygon points="133.1,437.79 130.4,442.47 135.8,442.47" fill="#fff" stroke="#8a96dc" stroke-width="0.8"/>
<polygon points="143.65,432.19 140.95,436.87 146.35,436.87" fill="#fff" stroke="#8a96dc" stroke-width="0.8"/>
<polygon points="154.2,430.89 151.5,435.57 156.9,435.57" fill="#fff" stroke="#8a96dc" stroke-width="0.8"/>
<polygon points="164.75,427.49 162.05,432.17 167.45,432.17" fill="#fff" stroke="#8a96dc" stroke-width="0.8"/>
<polygon points="175.3,427.19 172.6,431.87 178,431.87" fill="#fff" stroke="#8a96dc" stroke-width="0.8"/>
<polygon points="185.85,426.59 183.15,431.27 188.55,431.27" fill="#fff" stroke="#8a96dc" stroke-width="0.8"/>
<polygon points="196.4,422.79 193.7,427.47 199.1,427.47" fill="#fff" stroke="#8a96dc" stroke-width="0.8"/>
<polygon points="206.95,418.49 204.25,423.17 209.65,423.17" fill="#fff" stroke="#8a96dc" stroke-width="0.8"/>
<polygon points="217.5,402.69 214.8,407.37 220.2,407.37" fill="#fff" stroke="#8a96dc" stroke-width="0.8"/>
<polygon points="228.05,415.59 225.35,420.27 230.75,420.27" fill="#fff" stroke="#8a96dc" stroke-width="0.8"/>
<polygon points="238.6,420.69 235.9,425.37 241.3,425.37" fill="#fff" stroke="#8a96dc" stroke-width="0.8"/>
<polygon points="249.15,408.19 246.45,412.87 251.85,412.87" fill="#fff" stroke="#8a96dc" stroke-width="0.8"/>
<polygon points="259.7,417.19 257,421.87 262.4,421.87" fill="#fff" stroke="#8a96dc" stroke-width="0.8"/>
<polygon points="270.25,414.09 267.55,418.77 272.95,418.77" fill="#fff" stroke="#8a96dc" stroke-width="0.8"/>
<polygon points="280.8,417.69 278.1,422.37 283.5,422.37" fill="#fff" stroke="#8a96dc" stroke-width="0.8"/>
<polygon points="291.35,403.79 288.65,408.47 294.05,408.47" fill="#fff" stroke="#8a96dc" stroke-width="0.8"/>
<polygon points="301.9,419.59 299.2,424.27 304.6,424.27" fill="#fff" stroke="#8a96dc" stroke-width="0.8"/>
<polygon points="312.45,393.69 309.75,398.37 315.15,398.37" fill="none" stroke="#8a96dc" stroke-width="0.8"/>
<polygon points="312.45,343.89 309.75,348.57 315.15,348.57" fill="none" stroke="#8a96dc" stroke-width="0.8"/>
<polygon points="323,285.39 320.3,290.07 325.7,290.07" fill="none" stroke="#8a96dc" stroke-width="0.8"/>
<rect x="107.7" y="283.5" width="4.4" height="4.4" fill="#000"/>
<polygon points="110,294.19 107.3,298.87 112.7,298.87" fill="none" stroke="#8a96dc" stroke-width="0.8"/>
<text transform="translate(122.64 288.6) scale(1.0287 1)" font-size="11.337" fill="#1a1a1a" stroke="#1a1a1a" stroke-width="0.200" stroke-linejoin="round" >H-PDMS-H</text>
<text transform="translate(122.64 300.4) scale(1.0833 1)" font-size="10.756" fill="#1a1a1a" stroke="#1a1a1a" stroke-width="0.200" stroke-linejoin="round" >Ring polymer mixture</text>
<text transform="translate(53.4 429.2) rotate(-90) scale(0.8559 1)" font-size="12.791" fill="#1a1a1a" stroke="#1a1a1a" stroke-width="0.200" stroke-linejoin="round">RALS Area / RI Area</text>
<path d="M8.4 0.5 C7 0.5 6 1.8 4.8 3.2 C3.8 4.6 3 5.9 1.9 5.9 C0.6 5.9 0.1 4.6 0.1 3.2 C0.1 1.8 0.6 0.5 1.9 0.5 C3 0.5 3.8 1.8 4.8 3.2 C6 4.6 7 5.9 8.4 5.9" fill="none" stroke="#1a1a1a" stroke-width="0.95" transform="translate(47.8 320.2) rotate(-90)"/>
<text transform="translate(54 304.73) rotate(-90) scale(1.0752 1)" font-size="12.791" fill="#1a1a1a" stroke="#1a1a1a" stroke-width="0.200" stroke-linejoin="round">M</text>
<text transform="translate(59 293.83) rotate(-90) scale(0.7350 1)" font-size="8.576" fill="#1a1a1a" stroke="#1a1a1a" stroke-width="0.200" stroke-linejoin="round">W</text>
<text transform="translate(181.31 481.7) scale(0.9797 1)" font-size="12.355" fill="#1a1a1a" stroke="#1a1a1a" stroke-width="0.200" stroke-linejoin="round" >Peak number</text>
<text transform="matrix(0.21687 0 0 0.27210 0.03 267.59)" font-size="100" fill="#1a1a1a" stroke="#1a1a1a" stroke-width="1.286" stroke-linejoin="round">(</text>
<text transform="matrix(0.26607 0 0 0.30296 9.02 269.53)" font-size="100" fill="#1a1a1a" stroke="#1a1a1a" stroke-width="1.155" stroke-linejoin="round">C</text>
<text transform="matrix(0.22064 0 0 0.27210 29.25 267.59)" font-size="100" fill="#1a1a1a" stroke="#1a1a1a" stroke-width="1.286" stroke-linejoin="round">)</text>
<rect x="442.3" y="265.5" width="252.7" height="188.9" fill="none" stroke="#3c3c3c" stroke-width="1.1"/>
<line x1="440.3" y1="434.9" x2="442.3" y2="434.9" stroke="#3c3c3c" stroke-width="1" />
<line x1="438.8" y1="410.7" x2="442.3" y2="410.7" stroke="#3c3c3c" stroke-width="1" />
<text transform="translate(420.16 413) scale(1.0000 1)" font-size="8.3" fill="#1a1a1a" stroke="#1a1a1a" stroke-width="0.120" stroke-linejoin="round">0.02</text>
<line x1="440.3" y1="386.5" x2="442.3" y2="386.5" stroke="#3c3c3c" stroke-width="1" />
<line x1="438.8" y1="362.3" x2="442.3" y2="362.3" stroke="#3c3c3c" stroke-width="1" />
<text transform="translate(420.11 364.6) scale(1.0000 1)" font-size="8.3" fill="#1a1a1a" stroke="#1a1a1a" stroke-width="0.120" stroke-linejoin="round">0.03</text>
<line x1="440.3" y1="338.1" x2="442.3" y2="338.1" stroke="#3c3c3c" stroke-width="1" />
<line x1="438.8" y1="313.9" x2="442.3" y2="313.9" stroke="#3c3c3c" stroke-width="1" />
<text transform="translate(419.99 316.2) scale(1.0000 1)" font-size="8.3" fill="#1a1a1a" stroke="#1a1a1a" stroke-width="0.120" stroke-linejoin="round">0.04</text>
<line x1="440.3" y1="289.7" x2="442.3" y2="289.7" stroke="#3c3c3c" stroke-width="1" />
<line x1="438.8" y1="265.5" x2="442.3" y2="265.5" stroke="#3c3c3c" stroke-width="1" />
<text transform="translate(420.09 267.8) scale(1.0000 1)" font-size="8.3" fill="#1a1a1a" stroke="#1a1a1a" stroke-width="0.120" stroke-linejoin="round">0.05</text>
<line x1="480" y1="454.4" x2="480" y2="457.7" stroke="#3c3c3c" stroke-width="1" />
<text transform="translate(467.27 466.8) scale(1.0000 1)" font-size="8.2" fill="#1a1a1a" stroke="#1a1a1a" stroke-width="0.120" stroke-linejoin="round">0.0005</text>
<line x1="526.77" y1="454.4" x2="526.77" y2="456.2" stroke="#3c3c3c" stroke-width="1" />
<line x1="573.55" y1="454.4" x2="573.55" y2="457.7" stroke="#3c3c3c" stroke-width="1" />
<text transform="translate(560.81 466.8) scale(1.0000 1)" font-size="8.2" fill="#1a1a1a" stroke="#1a1a1a" stroke-width="0.120" stroke-linejoin="round">0.0010</text>
<line x1="620.33" y1="454.4" x2="620.33" y2="456.2" stroke="#3c3c3c" stroke-width="1" />
<line x1="667.1" y1="454.4" x2="667.1" y2="457.7" stroke="#3c3c3c" stroke-width="1" />
<text transform="translate(654.37 466.8) scale(1.0000 1)" font-size="8.2" fill="#1a1a1a" stroke="#1a1a1a" stroke-width="0.120" stroke-linejoin="round">0.0015</text>
<line x1="476.5" y1="410.2" x2="588.7" y2="331.6" stroke="#555" stroke-width="0.8" />
<line x1="474" y1="434.4" x2="661.1" y2="326.9" stroke="#7080d8" stroke-width="0.8" />
<polygon points="464.4,432.09 461.7,436.77 467.1,436.77" fill="none" stroke="#8a96dc" stroke-width="0.8"/>
<polygon points="463.5,434.39 460.8,439.07 466.2,439.07" fill="none" stroke="#8a96dc" stroke-width="0.8"/>
<polygon points="496.9,416.99 494.2,421.67 499.6,421.67" fill="none" stroke="#8a96dc" stroke-width="0.8"/>
<polygon points="505.3,422.99 502.6,427.67 508,427.67" fill="none" stroke="#8a96dc" stroke-width="0.8"/>
<polygon points="503.4,368.39 500.7,373.07 506.1,373.07" fill="none" stroke="#8a96dc" stroke-width="0.8"/>
<polygon points="528.8,405.69 526.1,410.37 531.5,410.37" fill="none" stroke="#8a96dc" stroke-width="0.8"/>
<polygon points="529.3,416.19 526.6,420.87 532,420.87" fill="none" stroke="#8a96dc" stroke-width="0.8"/>
<polygon points="528.8,419.19 526.1,423.87 531.5,423.87" fill="none" stroke="#8a96dc" stroke-width="0.8"/>
<polygon points="552.2,408.09 549.5,412.77 554.9,412.77" fill="none" stroke="#8a96dc" stroke-width="0.8"/>
<polygon points="577.4,389.99 574.7,394.67 580.1,394.67" fill="none" stroke="#8a96dc" stroke-width="0.8"/>
<polygon points="563.2,324.79 560.5,329.47 565.9,329.47" fill="none" stroke="#8a96dc" stroke-width="0.8"/>
<polygon points="595.1,359.19 592.4,363.87 597.8,363.87" fill="none" stroke="#8a96dc" stroke-width="0.8"/>
<polygon points="635.8,276.29 633.1,280.97 638.5,280.97" fill="none" stroke="#8a96dc" stroke-width="0.8"/>
<polygon points="671.8,375.99 669.1,380.67 674.5,380.67" fill="none" stroke="#8a96dc" stroke-width="0.8"/>
<rect x="467.9" y="400.8" width="4.2" height="4.2" fill="#000"/>
<rect x="479.2" y="405.6" width="4.2" height="4.2" fill="#000"/>
<rect x="479.9" y="413.3" width="4.2" height="4.2" fill="#000"/>
<rect x="483" y="390.7" width="4.2" height="4.2" fill="#000"/>
<rect x="514.7" y="399.6" width="4.2" height="4.2" fill="#000"/>
<rect x="520.7" y="384" width="4.2" height="4.2" fill="#000"/>
<rect x="527.7" y="374.9" width="4.2" height="4.2" fill="#000"/>
<rect x="539.7" y="362.9" width="4.2" height="4.2" fill="#000"/>
<rect x="536.9" y="353.5" width="4.2" height="4.2" fill="#000"/>
<rect x="537.3" y="349.9" width="4.2" height="4.2" fill="#000"/>
<rect x="543.6" y="329.9" width="4.2" height="4.2" fill="#000"/>
<rect x="566.9" y="333.3" width="4.2" height="4.2" fill="#000"/>
<rect x="593" y="353.4" width="4.2" height="4.2" fill="#000"/>
<rect x="472.1" y="280.5" width="4.4" height="4.4" fill="#000"/>
<polygon points="474.3,290.59 471.6,295.27 477,295.27" fill="none" stroke="#8a96dc" stroke-width="0.8"/>
<text transform="translate(486.13 285.6) scale(1.0670 1)" font-size="11.047" fill="#1a1a1a" stroke="#1a1a1a" stroke-width="0.200" stroke-linejoin="round" >H-PDMS-H</text>
<text transform="translate(486.13 297.4) scale(1.1092 1)" font-size="10.610" fill="#1a1a1a" stroke="#1a1a1a" stroke-width="0.200" stroke-linejoin="round" >Ring polymer mixture</text>
<text transform="translate(581.37 327.4) scale(0.9596 1)" font-size="9.302" fill="#1a1a1a" stroke="#1a1a1a" stroke-width="0.200" stroke-linejoin="round" >R</text>
<text transform="translate(587.86 324.3) scale(1.1457 1)" font-size="4.215" fill="#1a1a1a" stroke="#1a1a1a" stroke-width="0.200" stroke-linejoin="round" >2</text>
<text transform="translate(592.39 327.4) scale(0.9129 1)" font-size="9.302" fill="#1a1a1a" stroke="#1a1a1a" stroke-width="0.200" stroke-linejoin="round" >= 0.70</text>
<text transform="translate(640.07 353.6) scale(0.9596 1)" font-size="9.302" fill="#1a1a1a" stroke="#1a1a1a" stroke-width="0.200" stroke-linejoin="round" >R</text>
<text transform="translate(646.56 350.5) scale(1.1457 1)" font-size="4.215" fill="#1a1a1a" stroke="#1a1a1a" stroke-width="0.200" stroke-linejoin="round" >2</text>
<text transform="translate(651.08 353.6) scale(0.9144 1)" font-size="9.302" fill="#1a1a1a" stroke="#1a1a1a" stroke-width="0.200" stroke-linejoin="round" >= 0.48</text>
<text transform="translate(404.1 395.65) rotate(-90) scale(0.9041 1)" font-size="12.791" fill="#1a1a1a" stroke="#1a1a1a" stroke-width="0.200" stroke-linejoin="round">DP Area / RI Area</text>
<text transform="translate(419.44 399.61) rotate(-90) scale(0.09107 0.20157)" font-size="100" fill="#1a1a1a">~</text>
<text transform="translate(416.4 389.96) rotate(-90) scale(1.0591 1)" font-size="11.919" fill="#1a1a1a" stroke="#1a1a1a" stroke-width="0.200" stroke-linejoin="round">Intrinsic viscosity</text>
<text transform="translate(520.87 481.6) scale(0.8332 1)" font-size="13.663" fill="#1a1a1a" stroke="#1a1a1a" stroke-width="0.200" stroke-linejoin="round" >RALS Area / RI Area</text>
<text transform="matrix(0.12851 0 0 0.17335 554.6 495.11)" font-size="100" fill="#1a1a1a" stroke="#1a1a1a" stroke-width="2.019" stroke-linejoin="round">~</text>
<text transform="translate(567.64 493.4) scale(1.1632 1)" font-size="12.209" fill="#1a1a1a" stroke="#1a1a1a" stroke-width="0.200" stroke-linejoin="round" >M</text>
<text transform="translate(578.77 497.4) scale(0.9300 1)" font-size="7.122" fill="#1a1a1a" stroke="#1a1a1a" stroke-width="0.200" stroke-linejoin="round" >W</text>
<text transform="matrix(0.22064 0 0 0.27532 361.01 267.52)" font-size="100" fill="#1a1a1a" stroke="#1a1a1a" stroke-width="1.271" stroke-linejoin="round">(</text>
<text transform="matrix(0.28618 0 0 0.31178 370.03 269.62)" font-size="100" fill="#1a1a1a" stroke="#1a1a1a" stroke-width="1.123" stroke-linejoin="round">D</text>
<text transform="matrix(0.22441 0 0 0.27532 392.64 267.52)" font-size="100" fill="#1a1a1a" stroke="#1a1a1a" stroke-width="1.271" stroke-linejoin="round">)</text>
</svg>
</body></html>
